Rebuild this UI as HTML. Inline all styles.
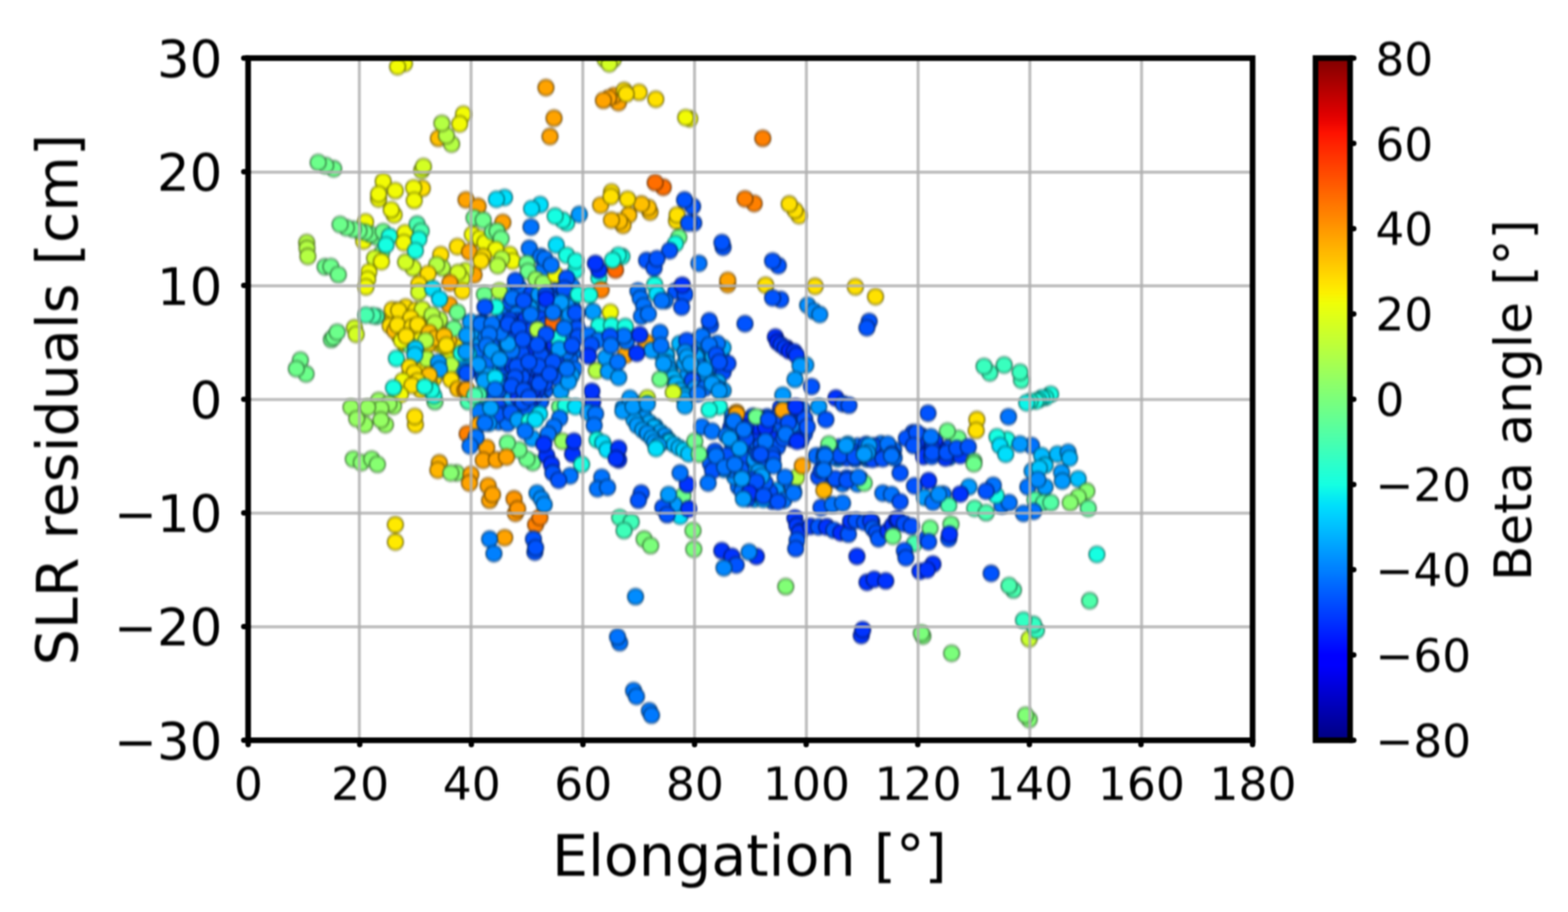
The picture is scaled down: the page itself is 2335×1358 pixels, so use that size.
<!DOCTYPE html>
<html lang="en"><head><meta charset="utf-8">
<title>SLR residuals vs Elongation</title>
<style>
html,body{margin:0;padding:0;background:#fff;}
body{width:2335px;height:1358px;overflow:hidden;}
svg{display:block;}
text{font-family:"DejaVu Sans","Liberation Sans",sans-serif;fill:#000;}
.tx{font-size:68.0px;}.ty{font-size:76.4px;}.tc{font-size:67.5px;}
.lb{font-size:85.0px;}.lc{font-size:77.0px;}
</style></head><body>
<svg width="2335" height="1358" viewBox="0 0 2335 1358" role="img" aria-label="Scatter plot of SLR residuals versus elongation, coloured by beta angle">
<defs>
<linearGradient id="jet" x1="0" y1="0" x2="0" y2="1"><stop offset="0.0000" stop-color="#800000"/><stop offset="0.0156" stop-color="#920000"/><stop offset="0.0312" stop-color="#a40000"/><stop offset="0.0469" stop-color="#b60000"/><stop offset="0.0625" stop-color="#c80000"/><stop offset="0.0781" stop-color="#da0000"/><stop offset="0.0938" stop-color="#ec0400"/><stop offset="0.1094" stop-color="#fe1200"/><stop offset="0.1250" stop-color="#ff2100"/><stop offset="0.1406" stop-color="#ff3000"/><stop offset="0.1562" stop-color="#ff3f00"/><stop offset="0.1719" stop-color="#ff4d00"/><stop offset="0.1875" stop-color="#ff5c00"/><stop offset="0.2031" stop-color="#ff6b00"/><stop offset="0.2188" stop-color="#ff7a00"/><stop offset="0.2344" stop-color="#ff8800"/><stop offset="0.2500" stop-color="#ff9700"/><stop offset="0.2656" stop-color="#ffa600"/><stop offset="0.2812" stop-color="#ffb500"/><stop offset="0.2969" stop-color="#ffc300"/><stop offset="0.3125" stop-color="#ffd200"/><stop offset="0.3281" stop-color="#ffe100"/><stop offset="0.3438" stop-color="#fcf000"/><stop offset="0.3594" stop-color="#effe08"/><stop offset="0.3750" stop-color="#e2ff15"/><stop offset="0.3906" stop-color="#d5ff21"/><stop offset="0.4062" stop-color="#c9ff2e"/><stop offset="0.4219" stop-color="#bcff3b"/><stop offset="0.4375" stop-color="#afff48"/><stop offset="0.4531" stop-color="#a2ff55"/><stop offset="0.4688" stop-color="#95ff62"/><stop offset="0.4844" stop-color="#88ff6f"/><stop offset="0.5000" stop-color="#7bff7b"/><stop offset="0.5156" stop-color="#6fff88"/><stop offset="0.5312" stop-color="#62ff95"/><stop offset="0.5469" stop-color="#55ffa2"/><stop offset="0.5625" stop-color="#48ffaf"/><stop offset="0.5781" stop-color="#3bffbc"/><stop offset="0.5938" stop-color="#2effc9"/><stop offset="0.6094" stop-color="#21ffd5"/><stop offset="0.6250" stop-color="#15ffe2"/><stop offset="0.6406" stop-color="#08efef"/><stop offset="0.6562" stop-color="#00dffc"/><stop offset="0.6719" stop-color="#00cfff"/><stop offset="0.6875" stop-color="#00bfff"/><stop offset="0.7031" stop-color="#00afff"/><stop offset="0.7188" stop-color="#009fff"/><stop offset="0.7344" stop-color="#008fff"/><stop offset="0.7500" stop-color="#0080ff"/><stop offset="0.7656" stop-color="#0070ff"/><stop offset="0.7812" stop-color="#0060ff"/><stop offset="0.7969" stop-color="#0050ff"/><stop offset="0.8125" stop-color="#0040ff"/><stop offset="0.8281" stop-color="#0030ff"/><stop offset="0.8438" stop-color="#0020ff"/><stop offset="0.8594" stop-color="#0010ff"/><stop offset="0.8750" stop-color="#0000ff"/><stop offset="0.8906" stop-color="#0000fe"/><stop offset="0.9062" stop-color="#0000ec"/><stop offset="0.9219" stop-color="#0000da"/><stop offset="0.9375" stop-color="#0000c8"/><stop offset="0.9531" stop-color="#0000b6"/><stop offset="0.9688" stop-color="#0000a4"/><stop offset="0.9844" stop-color="#000092"/><stop offset="1.0000" stop-color="#000080"/></linearGradient>
<clipPath id="ax"><rect x="369.5" y="86.5" width="1495.8" height="1015.8"/></clipPath>
<filter id="soft" filterUnits="userSpaceOnUse" x="0" y="0" width="2335" height="1358" color-interpolation-filters="sRGB"><feGaussianBlur stdDeviation="1.5 2.0"/></filter>
<filter id="line" filterUnits="userSpaceOnUse" x="0" y="0" width="2335" height="1358" color-interpolation-filters="sRGB"><feGaussianBlur stdDeviation="0.9 1.2"/></filter>
<filter id="txt" filterUnits="userSpaceOnUse" x="0" y="0" width="2335" height="1358" color-interpolation-filters="sRGB"><feGaussianBlur stdDeviation="1.1 1.4"/></filter>
</defs>
<rect width="2335" height="1358" fill="#fff"/>
<g filter="url(#soft)"><g clip-path="url(#ax)" stroke-width="1.8">
<circle cx="832.1" cy="448.6" r="11.8" fill="#0070ff" stroke="#002f6b"/>
<circle cx="765.1" cy="525.9" r="11.8" fill="#004eff" stroke="#00216b"/>
<circle cx="735.9" cy="500.1" r="11.8" fill="#006fff" stroke="#002f6b"/>
<circle cx="703.2" cy="533.7" r="11.8" fill="#009cff" stroke="#00426b"/>
<circle cx="711.1" cy="506.7" r="11.8" fill="#0078ff" stroke="#00326b"/>
<circle cx="798.0" cy="559.8" r="11.8" fill="#0070ff" stroke="#002f6b"/>
<circle cx="851.1" cy="504.5" r="11.8" fill="#005bff" stroke="#00266b"/>
<circle cx="830.2" cy="432.6" r="11.8" fill="#0053ff" stroke="#00236b"/>
<circle cx="852.4" cy="458.4" r="11.8" fill="#0092ff" stroke="#003e6b"/>
<circle cx="805.9" cy="483.6" r="11.8" fill="#0094ff" stroke="#003e6b"/>
<circle cx="770.8" cy="535.5" r="11.8" fill="#004dff" stroke="#00206b"/>
<circle cx="814.6" cy="502.2" r="11.8" fill="#0094ff" stroke="#003e6b"/>
<circle cx="782.6" cy="556.7" r="11.8" fill="#0073ff" stroke="#00306b"/>
<circle cx="793.4" cy="547.9" r="11.8" fill="#006eff" stroke="#002e6b"/>
<circle cx="754.4" cy="492.3" r="11.8" fill="#006fff" stroke="#002f6b"/>
<circle cx="835.4" cy="540.2" r="11.8" fill="#0072ff" stroke="#00306b"/>
<circle cx="716.5" cy="623.6" r="11.8" fill="#009eff" stroke="#00426b"/>
<circle cx="794.7" cy="468.7" r="11.8" fill="#0095ff" stroke="#003f6b"/>
<circle cx="792.3" cy="480.4" r="11.8" fill="#004aff" stroke="#001f6b"/>
<circle cx="718.6" cy="539.0" r="11.8" fill="#0058ff" stroke="#00256b"/>
<circle cx="755.8" cy="582.9" r="11.8" fill="#0093ff" stroke="#003e6b"/>
<circle cx="799.8" cy="502.5" r="11.8" fill="#0072ff" stroke="#00306b"/>
<circle cx="768.8" cy="443.3" r="11.8" fill="#009eff" stroke="#00426b"/>
<circle cx="722.1" cy="590.8" r="11.8" fill="#009dff" stroke="#00426b"/>
<circle cx="776.9" cy="544.2" r="11.8" fill="#009cff" stroke="#00426b"/>
<circle cx="752.0" cy="571.8" r="11.8" fill="#0070ff" stroke="#002f6b"/>
<circle cx="757.8" cy="513.7" r="11.8" fill="#0094ff" stroke="#003e6b"/>
<circle cx="734.3" cy="483.5" r="11.8" fill="#0074ff" stroke="#00316b"/>
<circle cx="800.8" cy="544.2" r="11.8" fill="#006cff" stroke="#002e6b"/>
<circle cx="818.0" cy="523.0" r="11.8" fill="#0059ff" stroke="#00266b"/>
<circle cx="697.7" cy="545.3" r="11.8" fill="#00a2ff" stroke="#00446b"/>
<circle cx="742.7" cy="512.7" r="11.8" fill="#0074ff" stroke="#00316b"/>
<circle cx="718.1" cy="606.2" r="11.8" fill="#00a1ff" stroke="#00446b"/>
<circle cx="853.0" cy="525.6" r="11.8" fill="#0079ff" stroke="#00336b"/>
<circle cx="832.6" cy="472.6" r="11.8" fill="#009fff" stroke="#00436b"/>
<circle cx="811.8" cy="568.3" r="11.8" fill="#0059ff" stroke="#00266b"/>
<circle cx="753.7" cy="589.6" r="11.8" fill="#004bff" stroke="#00206b"/>
<circle cx="765.1" cy="505.7" r="11.8" fill="#0070ff" stroke="#002f6b"/>
<circle cx="784.3" cy="582.2" r="11.8" fill="#0079ff" stroke="#00336b"/>
<circle cx="757.8" cy="467.8" r="11.8" fill="#0072ff" stroke="#00306b"/>
<circle cx="766.6" cy="460.7" r="11.8" fill="#0093ff" stroke="#003e6b"/>
<circle cx="848.8" cy="535.4" r="11.8" fill="#006aff" stroke="#002c6b"/>
<circle cx="784.2" cy="447.2" r="11.8" fill="#004cff" stroke="#00206b"/>
<circle cx="857.6" cy="482.6" r="11.8" fill="#0075ff" stroke="#00316b"/>
<circle cx="788.1" cy="590.1" r="11.8" fill="#005aff" stroke="#00266b"/>
<circle cx="855.9" cy="549.6" r="11.8" fill="#0070ff" stroke="#002f6b"/>
<circle cx="764.6" cy="431.6" r="11.8" fill="#0096ff" stroke="#003f6b"/>
<circle cx="725.0" cy="524.7" r="11.8" fill="#0093ff" stroke="#003e6b"/>
<circle cx="777.5" cy="434.7" r="11.8" fill="#004dff" stroke="#00206b"/>
<circle cx="850.0" cy="494.2" r="11.8" fill="#009cff" stroke="#00426b"/>
<circle cx="788.2" cy="612.4" r="11.8" fill="#006dff" stroke="#002e6b"/>
<circle cx="772.9" cy="589.9" r="11.8" fill="#0075ff" stroke="#00316b"/>
<circle cx="792.3" cy="605.9" r="11.8" fill="#006cff" stroke="#002d6b"/>
<circle cx="727.5" cy="579.1" r="11.8" fill="#0078ff" stroke="#00326b"/>
<circle cx="836.3" cy="494.8" r="11.8" fill="#0077ff" stroke="#00326b"/>
<circle cx="755.9" cy="602.5" r="11.8" fill="#0076ff" stroke="#00326b"/>
<circle cx="834.0" cy="556.7" r="11.8" fill="#006bff" stroke="#002d6b"/>
<circle cx="715.8" cy="492.6" r="11.8" fill="#0077ff" stroke="#00326b"/>
<circle cx="760.9" cy="562.0" r="11.8" fill="#009fff" stroke="#00436b"/>
<circle cx="813.6" cy="544.9" r="11.8" fill="#0051ff" stroke="#00226b"/>
<circle cx="760.2" cy="450.2" r="11.8" fill="#0057ff" stroke="#00246b"/>
<circle cx="822.7" cy="469.0" r="11.8" fill="#006bff" stroke="#002d6b"/>
<circle cx="741.5" cy="562.6" r="11.8" fill="#0052ff" stroke="#00226b"/>
<circle cx="747.7" cy="478.6" r="11.8" fill="#006dff" stroke="#002e6b"/>
<circle cx="782.0" cy="471.6" r="11.8" fill="#0055ff" stroke="#00246b"/>
<circle cx="737.3" cy="589.3" r="11.8" fill="#0058ff" stroke="#00256b"/>
<circle cx="778.4" cy="616.9" r="11.8" fill="#006aff" stroke="#002c6b"/>
<circle cx="843.4" cy="525.0" r="11.8" fill="#0071ff" stroke="#002f6b"/>
<circle cx="741.7" cy="604.9" r="11.8" fill="#0049ff" stroke="#001f6b"/>
<circle cx="736.5" cy="551.3" r="11.8" fill="#00a2ff" stroke="#00446b"/>
<circle cx="713.5" cy="545.2" r="11.8" fill="#0050ff" stroke="#00226b"/>
<circle cx="766.9" cy="579.4" r="11.8" fill="#006bff" stroke="#002d6b"/>
<circle cx="722.0" cy="612.0" r="11.8" fill="#006eff" stroke="#002e6b"/>
<circle cx="788.6" cy="524.7" r="11.8" fill="#0070ff" stroke="#002f6b"/>
<circle cx="715.9" cy="511.0" r="11.8" fill="#009bff" stroke="#00416b"/>
<circle cx="813.0" cy="433.7" r="11.8" fill="#004bff" stroke="#00206b"/>
<circle cx="775.5" cy="461.0" r="11.8" fill="#004fff" stroke="#00216b"/>
<circle cx="826.7" cy="478.9" r="11.8" fill="#004cff" stroke="#00206b"/>
<circle cx="849.8" cy="443.0" r="11.8" fill="#0052ff" stroke="#00226b"/>
<circle cx="719.4" cy="561.6" r="11.8" fill="#0052ff" stroke="#00226b"/>
<circle cx="850.9" cy="558.9" r="11.8" fill="#009dff" stroke="#00426b"/>
<circle cx="747.4" cy="489.3" r="11.8" fill="#0049ff" stroke="#001f6b"/>
<circle cx="785.1" cy="604.6" r="11.8" fill="#007cff" stroke="#00346b"/>
<circle cx="775.8" cy="500.1" r="11.8" fill="#00a0ff" stroke="#00436b"/>
<circle cx="809.5" cy="561.6" r="11.8" fill="#0096ff" stroke="#003f6b"/>
<circle cx="732.3" cy="515.1" r="11.8" fill="#005cff" stroke="#00276b"/>
<circle cx="815.6" cy="477.1" r="11.8" fill="#0092ff" stroke="#003d6b"/>
<circle cx="839.2" cy="436.2" r="11.8" fill="#006eff" stroke="#002e6b"/>
<circle cx="737.4" cy="525.8" r="11.8" fill="#0057ff" stroke="#00256b"/>
<circle cx="824.9" cy="548.6" r="11.8" fill="#0099ff" stroke="#00406b"/>
<circle cx="694.0" cy="537.8" r="11.8" fill="#0092ff" stroke="#003d6b"/>
<circle cx="799.2" cy="445.3" r="11.8" fill="#0092ff" stroke="#003d6b"/>
<circle cx="722.0" cy="482.2" r="11.8" fill="#0076ff" stroke="#00316b"/>
<circle cx="749.8" cy="525.0" r="11.8" fill="#0092ff" stroke="#003d6b"/>
<circle cx="832.4" cy="513.6" r="11.8" fill="#0090ff" stroke="#003c6b"/>
<circle cx="841.0" cy="506.1" r="11.8" fill="#006dff" stroke="#002e6b"/>
<circle cx="742.8" cy="628.3" r="11.8" fill="#0075ff" stroke="#00316b"/>
<circle cx="741.2" cy="582.5" r="11.8" fill="#005cff" stroke="#00276b"/>
<circle cx="702.5" cy="481.8" r="11.8" fill="#00a1ff" stroke="#00446b"/>
<circle cx="751.9" cy="616.3" r="11.8" fill="#0057ff" stroke="#00246b"/>
<circle cx="811.5" cy="466.2" r="11.8" fill="#0055ff" stroke="#00246b"/>
<circle cx="769.7" cy="468.1" r="11.8" fill="#007aff" stroke="#00336b"/>
<circle cx="722.0" cy="499.1" r="11.8" fill="#0079ff" stroke="#00336b"/>
<circle cx="751.6" cy="501.5" r="11.8" fill="#0070ff" stroke="#002f6b"/>
<circle cx="798.4" cy="492.7" r="11.8" fill="#0059ff" stroke="#00256b"/>
<circle cx="828.7" cy="502.8" r="11.8" fill="#004eff" stroke="#00216b"/>
<circle cx="775.8" cy="570.5" r="11.8" fill="#006dff" stroke="#002e6b"/>
<circle cx="851.7" cy="515.5" r="11.8" fill="#004cff" stroke="#00206b"/>
<circle cx="781.0" cy="538.6" r="11.8" fill="#0059ff" stroke="#00256b"/>
<circle cx="750.4" cy="545.0" r="11.8" fill="#0052ff" stroke="#00236b"/>
<circle cx="825.6" cy="539.9" r="11.8" fill="#0092ff" stroke="#003d6b"/>
<circle cx="769.6" cy="604.1" r="11.8" fill="#0096ff" stroke="#003f6b"/>
<circle cx="811.3" cy="581.8" r="11.8" fill="#005cff" stroke="#00276b"/>
<circle cx="779.5" cy="491.1" r="11.8" fill="#0054ff" stroke="#00236b"/>
<circle cx="740.9" cy="573.2" r="11.8" fill="#007cff" stroke="#00346b"/>
<circle cx="809.7" cy="495.5" r="11.8" fill="#004fff" stroke="#00216b"/>
<circle cx="825.8" cy="561.5" r="11.8" fill="#005aff" stroke="#00266b"/>
<circle cx="767.3" cy="492.5" r="11.8" fill="#0099ff" stroke="#00406b"/>
<circle cx="844.5" cy="455.9" r="11.8" fill="#0092ff" stroke="#003d6b"/>
<circle cx="851.9" cy="426.7" r="11.8" fill="#007cff" stroke="#00346b"/>
<circle cx="769.5" cy="559.6" r="11.8" fill="#009cff" stroke="#00416b"/>
<circle cx="792.5" cy="569.0" r="11.8" fill="#0098ff" stroke="#00406b"/>
<circle cx="714.8" cy="480.8" r="11.8" fill="#0056ff" stroke="#00246b"/>
<circle cx="825.8" cy="516.6" r="11.8" fill="#006aff" stroke="#002c6b"/>
<circle cx="766.4" cy="566.6" r="11.8" fill="#006fff" stroke="#002f6b"/>
<circle cx="805.8" cy="522.4" r="11.8" fill="#004dff" stroke="#00206b"/>
<circle cx="771.8" cy="426.6" r="11.8" fill="#006eff" stroke="#002e6b"/>
<circle cx="821.6" cy="445.6" r="11.8" fill="#0054ff" stroke="#00236b"/>
<circle cx="756.5" cy="540.5" r="11.8" fill="#0099ff" stroke="#00406b"/>
<circle cx="805.3" cy="539.7" r="11.8" fill="#0069ff" stroke="#002c6b"/>
<circle cx="762.3" cy="593.7" r="11.8" fill="#0099ff" stroke="#00406b"/>
<circle cx="747.3" cy="538.3" r="11.8" fill="#0052ff" stroke="#00226b"/>
<circle cx="798.5" cy="534.4" r="11.8" fill="#006dff" stroke="#002e6b"/>
<circle cx="805.5" cy="596.4" r="11.8" fill="#0078ff" stroke="#00326b"/>
<circle cx="755.9" cy="630.4" r="11.8" fill="#0071ff" stroke="#002f6b"/>
<circle cx="777.9" cy="480.9" r="11.8" fill="#0052ff" stroke="#00226b"/>
<circle cx="733.5" cy="562.3" r="11.8" fill="#006cff" stroke="#002e6b"/>
<circle cx="792.3" cy="505.5" r="11.8" fill="#009fff" stroke="#00436b"/>
<circle cx="722.7" cy="550.7" r="11.8" fill="#009dff" stroke="#00426b"/>
<circle cx="842.1" cy="547.3" r="11.8" fill="#0090ff" stroke="#003d6b"/>
<circle cx="810.7" cy="511.4" r="11.8" fill="#004eff" stroke="#00216b"/>
<circle cx="740.2" cy="617.1" r="11.8" fill="#0057ff" stroke="#00256b"/>
<circle cx="859.0" cy="467.0" r="11.8" fill="#0058ff" stroke="#00256b"/>
<circle cx="728.9" cy="535.8" r="11.8" fill="#006fff" stroke="#002f6b"/>
<circle cx="767.0" cy="515.6" r="11.8" fill="#004aff" stroke="#001f6b"/>
<circle cx="799.1" cy="455.5" r="11.8" fill="#006cff" stroke="#002d6b"/>
<circle cx="791.8" cy="436.9" r="11.8" fill="#004cff" stroke="#00206b"/>
<circle cx="713.3" cy="612.9" r="11.8" fill="#007aff" stroke="#00336b"/>
<circle cx="708.8" cy="524.3" r="11.8" fill="#006fff" stroke="#002f6b"/>
<circle cx="778.1" cy="523.8" r="11.8" fill="#0073ff" stroke="#00306b"/>
<circle cx="701.4" cy="495.1" r="11.8" fill="#009dff" stroke="#00426b"/>
<circle cx="721.5" cy="566.8" r="11.8" fill="#009dff" stroke="#00426b"/>
<circle cx="825.6" cy="458.0" r="11.8" fill="#0097ff" stroke="#003f6b"/>
<circle cx="809.2" cy="448.7" r="11.8" fill="#006eff" stroke="#002e6b"/>
<circle cx="760.9" cy="614.5" r="11.8" fill="#005aff" stroke="#00266b"/>
<circle cx="793.2" cy="582.8" r="11.8" fill="#0070ff" stroke="#002f6b"/>
<circle cx="839.5" cy="481.3" r="11.8" fill="#0094ff" stroke="#003e6b"/>
<circle cx="802.6" cy="438.4" r="11.8" fill="#0094ff" stroke="#003e6b"/>
<circle cx="788.8" cy="458.8" r="11.8" fill="#009eff" stroke="#00436b"/>
<circle cx="825.6" cy="522.4" r="11.8" fill="#007bff" stroke="#00346b"/>
<circle cx="814.1" cy="456.6" r="11.8" fill="#0069ff" stroke="#002c6b"/>
<circle cx="761.9" cy="480.4" r="11.8" fill="#0056ff" stroke="#00246b"/>
<circle cx="766.2" cy="546.9" r="11.8" fill="#004fff" stroke="#00216b"/>
<circle cx="728.0" cy="630.2" r="11.8" fill="#0091ff" stroke="#003d6b"/>
<circle cx="848.3" cy="468.8" r="11.8" fill="#0091ff" stroke="#003d6b"/>
<circle cx="771.4" cy="625.3" r="11.8" fill="#009fff" stroke="#00436b"/>
<circle cx="818.8" cy="491.5" r="11.8" fill="#0053ff" stroke="#00236b"/>
<circle cx="780.3" cy="514.4" r="11.8" fill="#004eff" stroke="#00216b"/>
<circle cx="800.7" cy="568.1" r="11.8" fill="#00a0ff" stroke="#00436b"/>
<circle cx="730.1" cy="495.1" r="11.8" fill="#0094ff" stroke="#003e6b"/>
<circle cx="730.6" cy="607.5" r="11.8" fill="#00a0ff" stroke="#00436b"/>
<circle cx="798.9" cy="517.5" r="11.8" fill="#006bff" stroke="#002d6b"/>
<circle cx="804.8" cy="597.9" r="11.8" fill="#005cff" stroke="#00276b"/>
<circle cx="795.2" cy="590.4" r="11.8" fill="#004bff" stroke="#00206b"/>
<circle cx="795.7" cy="547.4" r="11.8" fill="#0044ff" stroke="#001d6b"/>
<circle cx="790.1" cy="557.9" r="11.8" fill="#004eff" stroke="#00216b"/>
<circle cx="771.1" cy="477.6" r="11.8" fill="#0050ff" stroke="#00216b"/>
<circle cx="772.3" cy="571.5" r="11.8" fill="#003eff" stroke="#001a6b"/>
<circle cx="790.6" cy="476.9" r="11.8" fill="#0043ff" stroke="#001c6b"/>
<circle cx="811.4" cy="550.1" r="11.8" fill="#0039ff" stroke="#00186b"/>
<circle cx="806.8" cy="519.8" r="11.8" fill="#0034ff" stroke="#00166b"/>
<circle cx="759.7" cy="530.1" r="11.8" fill="#002aff" stroke="#00126b"/>
<circle cx="781.7" cy="539.3" r="11.8" fill="#004aff" stroke="#001f6b"/>
<circle cx="785.5" cy="506.1" r="11.8" fill="#002cff" stroke="#00136b"/>
<circle cx="813.5" cy="514.2" r="11.8" fill="#003bff" stroke="#00196b"/>
<circle cx="789.3" cy="535.7" r="11.8" fill="#0049ff" stroke="#001f6b"/>
<circle cx="809.8" cy="528.8" r="11.8" fill="#004aff" stroke="#001f6b"/>
<circle cx="795.4" cy="507.2" r="11.8" fill="#0058ff" stroke="#00256b"/>
<circle cx="797.9" cy="524.4" r="11.8" fill="#004dff" stroke="#00206b"/>
<circle cx="764.8" cy="518.5" r="11.8" fill="#0042ff" stroke="#001c6b"/>
<circle cx="806.2" cy="498.0" r="11.8" fill="#004eff" stroke="#00216b"/>
<circle cx="764.3" cy="540.2" r="11.8" fill="#0059ff" stroke="#00256b"/>
<circle cx="781.6" cy="579.8" r="11.8" fill="#004eff" stroke="#00216b"/>
<circle cx="778.9" cy="514.0" r="11.8" fill="#0059ff" stroke="#00256b"/>
<circle cx="782.4" cy="547.0" r="11.8" fill="#004aff" stroke="#001f6b"/>
<circle cx="757.2" cy="493.8" r="11.8" fill="#0044ff" stroke="#001d6b"/>
<circle cx="783.3" cy="486.0" r="11.8" fill="#003cff" stroke="#00196b"/>
<circle cx="770.6" cy="557.1" r="11.8" fill="#0035ff" stroke="#00166b"/>
<circle cx="800.3" cy="484.8" r="11.8" fill="#004fff" stroke="#00216b"/>
<circle cx="775.1" cy="482.0" r="11.8" fill="#0044ff" stroke="#001d6b"/>
<circle cx="818.8" cy="545.6" r="11.8" fill="#0052ff" stroke="#00226b"/>
<circle cx="788.4" cy="601.9" r="11.8" fill="#002fff" stroke="#00146b"/>
<circle cx="811.3" cy="570.5" r="11.8" fill="#004eff" stroke="#00216b"/>
<circle cx="786.0" cy="607.9" r="11.8" fill="#005cff" stroke="#00276b"/>
<circle cx="796.1" cy="570.1" r="11.8" fill="#0041ff" stroke="#001b6b"/>
<circle cx="763.5" cy="544.8" r="11.8" fill="#0043ff" stroke="#001c6b"/>
<circle cx="827.6" cy="537.7" r="11.8" fill="#0048ff" stroke="#001e6b"/>
<circle cx="819.2" cy="496.1" r="11.8" fill="#003fff" stroke="#001a6b"/>
<circle cx="782.5" cy="491.9" r="11.8" fill="#0057ff" stroke="#00246b"/>
<circle cx="812.6" cy="558.0" r="11.8" fill="#0058ff" stroke="#00256b"/>
<circle cx="804.2" cy="539.5" r="11.8" fill="#0045ff" stroke="#001d6b"/>
<circle cx="785.9" cy="525.1" r="11.8" fill="#0045ff" stroke="#001d6b"/>
<circle cx="757.8" cy="534.3" r="11.8" fill="#003fff" stroke="#001b6b"/>
<circle cx="772.2" cy="545.6" r="11.8" fill="#0050ff" stroke="#00226b"/>
<circle cx="783.0" cy="588.9" r="11.8" fill="#004bff" stroke="#00206b"/>
<circle cx="800.8" cy="578.5" r="11.8" fill="#0045ff" stroke="#001d6b"/>
<circle cx="813.2" cy="505.2" r="11.8" fill="#005bff" stroke="#00266b"/>
<circle cx="793.3" cy="515.9" r="11.8" fill="#0030ff" stroke="#00146b"/>
<circle cx="771.7" cy="507.1" r="11.8" fill="#0041ff" stroke="#001b6b"/>
<circle cx="815.8" cy="476.4" r="11.8" fill="#003cff" stroke="#00196b"/>
<circle cx="759.1" cy="476.7" r="11.8" fill="#004bff" stroke="#00206b"/>
<circle cx="783.0" cy="567.6" r="11.8" fill="#0041ff" stroke="#001b6b"/>
<circle cx="822.4" cy="528.3" r="11.8" fill="#005aff" stroke="#00266b"/>
<circle cx="772.0" cy="591.7" r="11.8" fill="#0037ff" stroke="#00176b"/>
<circle cx="778.7" cy="598.9" r="11.8" fill="#0057ff" stroke="#00256b"/>
<circle cx="777.1" cy="561.3" r="11.8" fill="#0052ff" stroke="#00226b"/>
<circle cx="783.0" cy="475.1" r="11.8" fill="#003dff" stroke="#001a6b"/>
<circle cx="758.8" cy="502.3" r="11.8" fill="#004dff" stroke="#00206b"/>
<circle cx="823.1" cy="506.7" r="11.8" fill="#0059ff" stroke="#00256b"/>
<circle cx="815.1" cy="537.1" r="11.8" fill="#0055ff" stroke="#00246b"/>
<circle cx="825.7" cy="513.4" r="11.8" fill="#002dff" stroke="#00136b"/>
<circle cx="776.1" cy="525.7" r="11.8" fill="#0051ff" stroke="#00226b"/>
<circle cx="765.3" cy="494.5" r="11.8" fill="#0047ff" stroke="#001e6b"/>
<circle cx="806.0" cy="475.1" r="11.8" fill="#0049ff" stroke="#001f6b"/>
<circle cx="806.8" cy="561.2" r="11.8" fill="#002dff" stroke="#00136b"/>
<circle cx="764.2" cy="485.1" r="11.8" fill="#0042ff" stroke="#001c6b"/>
<circle cx="793.4" cy="580.9" r="11.8" fill="#003aff" stroke="#00186b"/>
<circle cx="813.3" cy="484.0" r="11.8" fill="#004eff" stroke="#00216b"/>
<circle cx="756.8" cy="515.4" r="11.8" fill="#005cff" stroke="#00276b"/>
<circle cx="790.2" cy="491.9" r="11.8" fill="#0042ff" stroke="#001c6b"/>
<circle cx="1070.7" cy="547.8" r="11.8" fill="#00b3ff" stroke="#004b6b"/>
<circle cx="1047.8" cy="521.5" r="11.8" fill="#00aeff" stroke="#00496b"/>
<circle cx="1025.0" cy="532.5" r="11.8" fill="#0092ff" stroke="#003d6b"/>
<circle cx="1048.5" cy="531.1" r="11.8" fill="#0096ff" stroke="#003f6b"/>
<circle cx="1054.4" cy="572.8" r="11.8" fill="#00a0ff" stroke="#00436b"/>
<circle cx="1058.3" cy="519.8" r="11.8" fill="#0076ff" stroke="#00316b"/>
<circle cx="1012.2" cy="511.7" r="11.8" fill="#00b4ff" stroke="#004c6b"/>
<circle cx="1048.2" cy="565.4" r="11.8" fill="#0057ff" stroke="#00256b"/>
<circle cx="1020.1" cy="523.9" r="11.8" fill="#00a5ff" stroke="#00456b"/>
<circle cx="1065.2" cy="557.2" r="11.8" fill="#009cff" stroke="#00426b"/>
<circle cx="1036.5" cy="531.3" r="11.8" fill="#00a2ff" stroke="#00446b"/>
<circle cx="1045.9" cy="546.2" r="11.8" fill="#0079ff" stroke="#00336b"/>
<circle cx="1050.0" cy="510.1" r="11.8" fill="#00a5ff" stroke="#00456b"/>
<circle cx="1022.2" cy="561.0" r="11.8" fill="#0097ff" stroke="#003f6b"/>
<circle cx="1039.9" cy="505.4" r="11.8" fill="#0093ff" stroke="#003e6b"/>
<circle cx="1019.5" cy="540.9" r="11.8" fill="#009dff" stroke="#00426b"/>
<circle cx="1076.8" cy="554.2" r="11.8" fill="#004bff" stroke="#00206b"/>
<circle cx="1041.6" cy="555.4" r="11.8" fill="#0075ff" stroke="#00316b"/>
<circle cx="1075.8" cy="534.6" r="11.8" fill="#0095ff" stroke="#003f6b"/>
<circle cx="1026.9" cy="520.2" r="11.8" fill="#0057ff" stroke="#00246b"/>
<circle cx="1033.0" cy="548.8" r="11.8" fill="#00a8ff" stroke="#00476b"/>
<circle cx="1069.0" cy="568.8" r="11.8" fill="#00acff" stroke="#00486b"/>
<circle cx="1076.9" cy="581.4" r="11.8" fill="#009aff" stroke="#00416b"/>
<circle cx="1056.8" cy="545.3" r="11.8" fill="#0058ff" stroke="#00256b"/>
<circle cx="1022.8" cy="507.1" r="11.8" fill="#0051ff" stroke="#00226b"/>
<circle cx="1050.3" cy="555.9" r="11.8" fill="#009cff" stroke="#00426b"/>
<circle cx="1062.0" cy="530.9" r="11.8" fill="#00afff" stroke="#004a6b"/>
<circle cx="1076.7" cy="517.7" r="11.8" fill="#00acff" stroke="#00486b"/>
<circle cx="1031.0" cy="566.5" r="11.8" fill="#004fff" stroke="#00216b"/>
<circle cx="1068.8" cy="577.6" r="11.8" fill="#0077ff" stroke="#00326b"/>
<circle cx="1084.0" cy="541.2" r="11.8" fill="#004bff" stroke="#00206b"/>
<circle cx="1034.9" cy="578.2" r="11.8" fill="#0090ff" stroke="#003c6b"/>
<circle cx="1049.5" cy="577.8" r="11.8" fill="#006aff" stroke="#002c6b"/>
<circle cx="1068.3" cy="511.4" r="11.8" fill="#0072ff" stroke="#00306b"/>
<circle cx="667.7" cy="523.7" r="11.8" fill="#ecff0b" stroke="#636b04"/>
<circle cx="646.5" cy="483.0" r="11.8" fill="#ffea00" stroke="#6b6200"/>
<circle cx="615.6" cy="478.4" r="11.8" fill="#ffdb00" stroke="#6b5c00"/>
<circle cx="585.3" cy="471.5" r="11.8" fill="#ffdc00" stroke="#6b5c00"/>
<circle cx="599.1" cy="492.5" r="11.8" fill="#ffbf00" stroke="#6b5000"/>
<circle cx="630.4" cy="504.0" r="11.8" fill="#ffde00" stroke="#6b5d00"/>
<circle cx="633.6" cy="478.7" r="11.8" fill="#f5f702" stroke="#676801"/>
<circle cx="608.6" cy="503.4" r="11.8" fill="#ffc000" stroke="#6b5000"/>
<circle cx="614.9" cy="467.6" r="11.8" fill="#ffe700" stroke="#6b6100"/>
<circle cx="652.6" cy="512.1" r="11.8" fill="#ffe100" stroke="#6b5e00"/>
<circle cx="658.2" cy="507.2" r="11.8" fill="#ffdc00" stroke="#6b5c00"/>
<circle cx="590.5" cy="461.6" r="11.8" fill="#f7f600" stroke="#686700"/>
<circle cx="625.0" cy="496.3" r="11.8" fill="#ffdd00" stroke="#6b5d00"/>
<circle cx="581.0" cy="485.0" r="11.8" fill="#ffdc00" stroke="#6b5c00"/>
<circle cx="594.8" cy="500.8" r="11.8" fill="#efff08" stroke="#646b03"/>
<circle cx="597.3" cy="481.4" r="11.8" fill="#ffe300" stroke="#6b5f00"/>
<circle cx="614.3" cy="512.9" r="11.8" fill="#ffe500" stroke="#6b6000"/>
<circle cx="599.8" cy="470.0" r="11.8" fill="#ffe500" stroke="#6b6000"/>
<circle cx="662.1" cy="515.8" r="11.8" fill="#f4f903" stroke="#666901"/>
<circle cx="678.9" cy="515.7" r="11.8" fill="#ffda00" stroke="#6b5b00"/>
<circle cx="652.4" cy="492.7" r="11.8" fill="#ecff0a" stroke="#636b04"/>
<circle cx="622.5" cy="515.9" r="11.8" fill="#ffc000" stroke="#6b5100"/>
<circle cx="668.3" cy="506.8" r="11.8" fill="#ffc100" stroke="#6b5100"/>
<circle cx="602.1" cy="511.4" r="11.8" fill="#ffea00" stroke="#6b6200"/>
<circle cx="587.8" cy="492.2" r="11.8" fill="#ffbd00" stroke="#6b5000"/>
<circle cx="642.3" cy="505.0" r="11.8" fill="#f3fa04" stroke="#666902"/>
<circle cx="615.3" cy="492.9" r="11.8" fill="#ffdc00" stroke="#6b5c00"/>
<circle cx="638.3" cy="511.9" r="11.8" fill="#ffc900" stroke="#6b5400"/>
<circle cx="625.7" cy="468.3" r="11.8" fill="#f4f903" stroke="#666901"/>
<circle cx="605.1" cy="484.3" r="11.8" fill="#ffe100" stroke="#6b5e00"/>
<circle cx="584.0" cy="461.3" r="11.8" fill="#ffe100" stroke="#6b5f00"/>
<circle cx="622.6" cy="506.4" r="11.8" fill="#f9f400" stroke="#686600"/>
<circle cx="604.2" cy="457.2" r="11.8" fill="#ffdf00" stroke="#6b5e00"/>
<circle cx="636.7" cy="489.8" r="11.8" fill="#ffe400" stroke="#6b6000"/>
<circle cx="619.4" cy="461.8" r="11.8" fill="#ffe800" stroke="#6b6200"/>
<circle cx="624.8" cy="557.2" r="11.8" fill="#ffba00" stroke="#6b4e00"/>
<circle cx="646.1" cy="563.2" r="11.8" fill="#ffdc00" stroke="#6b5d00"/>
<circle cx="628.0" cy="567.6" r="11.8" fill="#ffdc00" stroke="#6b5c00"/>
<circle cx="618.5" cy="570.6" r="11.8" fill="#ffe800" stroke="#6b6100"/>
<circle cx="639.2" cy="569.7" r="11.8" fill="#ffb900" stroke="#6b4e00"/>
<circle cx="615.0" cy="546.8" r="11.8" fill="#ffbf00" stroke="#6b5000"/>
<circle cx="626.7" cy="580.4" r="11.8" fill="#ffe000" stroke="#6b5e00"/>
<circle cx="633.2" cy="558.4" r="11.8" fill="#ffc200" stroke="#6b5100"/>
<circle cx="607.6" cy="562.1" r="11.8" fill="#ffda00" stroke="#6b5c00"/>
<circle cx="631.0" cy="548.4" r="11.8" fill="#ffe800" stroke="#6b6100"/>
<circle cx="972.7" cy="518.8" r="11.8" fill="#0098ff" stroke="#00406b"/>
<circle cx="980.9" cy="523.6" r="11.8" fill="#00a2ff" stroke="#00446b"/>
<circle cx="992.7" cy="528.6" r="11.8" fill="#00abff" stroke="#00486b"/>
<circle cx="992.2" cy="528.9" r="11.8" fill="#00b0ff" stroke="#004a6b"/>
<circle cx="993.7" cy="540.3" r="11.8" fill="#00a1ff" stroke="#00436b"/>
<circle cx="996.9" cy="550.0" r="11.8" fill="#00aeff" stroke="#00496b"/>
<circle cx="995.7" cy="548.9" r="11.8" fill="#0096ff" stroke="#003f6b"/>
<circle cx="998.6" cy="556.9" r="11.8" fill="#00a6ff" stroke="#00466b"/>
<circle cx="1002.7" cy="563.0" r="11.8" fill="#00b4ff" stroke="#004b6b"/>
<circle cx="1005.5" cy="571.8" r="11.8" fill="#0098ff" stroke="#00406b"/>
<circle cx="1007.3" cy="571.6" r="11.8" fill="#00b4ff" stroke="#004b6b"/>
<circle cx="1012.9" cy="581.3" r="11.8" fill="#00aaff" stroke="#00486b"/>
<circle cx="1020.0" cy="588.3" r="11.8" fill="#0097ff" stroke="#003f6b"/>
<circle cx="1019.7" cy="589.1" r="11.8" fill="#00b2ff" stroke="#004b6b"/>
<circle cx="1019.4" cy="594.7" r="11.8" fill="#00a4ff" stroke="#00456b"/>
<circle cx="1020.1" cy="604.5" r="11.8" fill="#00a1ff" stroke="#00446b"/>
<circle cx="1020.4" cy="524.5" r="11.8" fill="#0091ff" stroke="#003d6b"/>
<circle cx="1023.1" cy="532.0" r="11.8" fill="#00a0ff" stroke="#00436b"/>
<circle cx="1027.8" cy="541.7" r="11.8" fill="#009cff" stroke="#00426b"/>
<circle cx="928.2" cy="606.8" r="11.8" fill="#0093ff" stroke="#003e6b"/>
<circle cx="935.2" cy="607.2" r="11.8" fill="#00a6ff" stroke="#00466b"/>
<circle cx="944.7" cy="612.5" r="11.8" fill="#0094ff" stroke="#003e6b"/>
<circle cx="953.9" cy="613.3" r="11.8" fill="#0091ff" stroke="#003d6b"/>
<circle cx="951.9" cy="614.5" r="11.8" fill="#00a8ff" stroke="#00476b"/>
<circle cx="959.8" cy="622.5" r="11.8" fill="#0095ff" stroke="#003f6b"/>
<circle cx="967.0" cy="629.3" r="11.8" fill="#00a5ff" stroke="#00456b"/>
<circle cx="975.7" cy="634.9" r="11.8" fill="#0094ff" stroke="#003e6b"/>
<circle cx="973.8" cy="636.4" r="11.8" fill="#00b3ff" stroke="#004b6b"/>
<circle cx="983.4" cy="643.6" r="11.8" fill="#00a5ff" stroke="#00456b"/>
<circle cx="990.2" cy="648.8" r="11.8" fill="#0096ff" stroke="#003f6b"/>
<circle cx="995.8" cy="655.8" r="11.8" fill="#0093ff" stroke="#003e6b"/>
<circle cx="997.3" cy="658.1" r="11.8" fill="#00ceff" stroke="#00566b"/>
<circle cx="1004.1" cy="662.1" r="11.8" fill="#00b7ff" stroke="#004d6b"/>
<circle cx="1011.3" cy="666.8" r="11.8" fill="#00b7ff" stroke="#004d6b"/>
<circle cx="1018.5" cy="670.3" r="11.8" fill="#00d0ff" stroke="#00576b"/>
<circle cx="1025.6" cy="675.7" r="11.8" fill="#00c4ff" stroke="#00526b"/>
<circle cx="944.0" cy="624.8" r="11.8" fill="#00a1ff" stroke="#00446b"/>
<circle cx="949.0" cy="633.5" r="11.8" fill="#009aff" stroke="#00406b"/>
<circle cx="957.1" cy="640.3" r="11.8" fill="#00a0ff" stroke="#00436b"/>
<circle cx="963.7" cy="645.5" r="11.8" fill="#0097ff" stroke="#003f6b"/>
<circle cx="964.2" cy="645.2" r="11.8" fill="#0096ff" stroke="#003f6b"/>
<circle cx="970.9" cy="652.5" r="11.8" fill="#009eff" stroke="#00436b"/>
<circle cx="974.9" cy="658.7" r="11.8" fill="#009aff" stroke="#00416b"/>
<circle cx="980.7" cy="663.2" r="11.8" fill="#009eff" stroke="#00426b"/>
<circle cx="1154.7" cy="501.9" r="11.8" fill="#0030ff" stroke="#00146b"/>
<circle cx="1157.9" cy="509.3" r="11.8" fill="#002aff" stroke="#00126b"/>
<circle cx="1163.1" cy="513.6" r="11.8" fill="#003aff" stroke="#00186b"/>
<circle cx="1171.3" cy="518.2" r="11.8" fill="#002fff" stroke="#00146b"/>
<circle cx="1169.0" cy="518.1" r="11.8" fill="#003aff" stroke="#00186b"/>
<circle cx="1175.5" cy="522.5" r="11.8" fill="#002aff" stroke="#00126b"/>
<circle cx="1182.7" cy="524.0" r="11.8" fill="#0035ff" stroke="#00166b"/>
<circle cx="1186.1" cy="529.0" r="11.8" fill="#0038ff" stroke="#00176b"/>
<circle cx="1088.3" cy="636.6" r="11.8" fill="#0039ff" stroke="#00186b"/>
<circle cx="1121.6" cy="619.6" r="11.8" fill="#0058ff" stroke="#00256b"/>
<circle cx="1119.3" cy="685.4" r="11.8" fill="#0052ff" stroke="#00236b"/>
<circle cx="1142.4" cy="620.8" r="11.8" fill="#0055ff" stroke="#00246b"/>
<circle cx="1162.5" cy="606.9" r="11.8" fill="#003cff" stroke="#00196b"/>
<circle cx="1132.1" cy="643.3" r="11.8" fill="#0056ff" stroke="#00246b"/>
<circle cx="1115.4" cy="668.4" r="11.8" fill="#006cff" stroke="#002d6b"/>
<circle cx="1123.8" cy="657.0" r="11.8" fill="#0072ff" stroke="#00306b"/>
<circle cx="1194.1" cy="609.2" r="11.8" fill="#006bff" stroke="#002d6b"/>
<circle cx="1193.1" cy="631.7" r="11.8" fill="#006bff" stroke="#002d6b"/>
<circle cx="1147.6" cy="670.5" r="11.8" fill="#003cff" stroke="#00196b"/>
<circle cx="1168.0" cy="630.7" r="11.8" fill="#0051ff" stroke="#00226b"/>
<circle cx="1167.3" cy="621.5" r="11.8" fill="#0030ff" stroke="#00146b"/>
<circle cx="1106.4" cy="625.5" r="11.8" fill="#002eff" stroke="#00146b"/>
<circle cx="1141.9" cy="658.6" r="11.8" fill="#005cff" stroke="#00276b"/>
<circle cx="1098.3" cy="657.5" r="11.8" fill="#003aff" stroke="#00186b"/>
<circle cx="1184.8" cy="620.3" r="11.8" fill="#002eff" stroke="#00136b"/>
<circle cx="1182.5" cy="644.2" r="11.8" fill="#0050ff" stroke="#00226b"/>
<circle cx="1170.5" cy="644.5" r="11.8" fill="#002fff" stroke="#00146b"/>
<circle cx="1105.1" cy="664.9" r="11.8" fill="#004aff" stroke="#001f6b"/>
<circle cx="1161.1" cy="646.8" r="11.8" fill="#007bff" stroke="#00346b"/>
<circle cx="1121.5" cy="642.8" r="11.8" fill="#003bff" stroke="#00196b"/>
<circle cx="1104.0" cy="645.2" r="11.8" fill="#0077ff" stroke="#00326b"/>
<circle cx="1179.7" cy="653.7" r="11.8" fill="#0037ff" stroke="#00176b"/>
<circle cx="1090.9" cy="618.8" r="11.8" fill="#007bff" stroke="#00346b"/>
<circle cx="1155.2" cy="635.6" r="11.8" fill="#0059ff" stroke="#00256b"/>
<circle cx="1175.3" cy="610.4" r="11.8" fill="#0053ff" stroke="#00236b"/>
<circle cx="1113.8" cy="680.4" r="11.8" fill="#004fff" stroke="#00216b"/>
<circle cx="1101.9" cy="636.6" r="11.8" fill="#005cff" stroke="#00276b"/>
<circle cx="1096.1" cy="642.3" r="11.8" fill="#0059ff" stroke="#00256b"/>
<circle cx="1128.4" cy="634.8" r="11.8" fill="#002cff" stroke="#00136b"/>
<circle cx="1110.6" cy="636.8" r="11.8" fill="#002bff" stroke="#00126b"/>
<circle cx="1123.1" cy="679.0" r="11.8" fill="#006eff" stroke="#002e6b"/>
<circle cx="1197.9" cy="645.9" r="11.8" fill="#0054ff" stroke="#00236b"/>
<circle cx="1180.3" cy="632.6" r="11.8" fill="#007aff" stroke="#00336b"/>
<circle cx="1110.8" cy="653.0" r="11.8" fill="#004dff" stroke="#00206b"/>
<circle cx="1160.1" cy="618.9" r="11.8" fill="#004dff" stroke="#00206b"/>
<circle cx="1143.8" cy="642.0" r="11.8" fill="#007aff" stroke="#00336b"/>
<circle cx="1133.5" cy="662.9" r="11.8" fill="#0056ff" stroke="#00246b"/>
<circle cx="1089.7" cy="657.4" r="11.8" fill="#0039ff" stroke="#00186b"/>
<circle cx="1152.0" cy="654.5" r="11.8" fill="#0034ff" stroke="#00166b"/>
<circle cx="1192.8" cy="655.6" r="11.8" fill="#004eff" stroke="#00216b"/>
<circle cx="1140.0" cy="676.1" r="11.8" fill="#0073ff" stroke="#00306b"/>
<circle cx="1157.8" cy="665.4" r="11.8" fill="#0058ff" stroke="#00256b"/>
<circle cx="1129.7" cy="621.5" r="11.8" fill="#0057ff" stroke="#00256b"/>
<circle cx="1140.0" cy="636.2" r="11.8" fill="#002eff" stroke="#00136b"/>
<circle cx="1091.4" cy="670.0" r="11.8" fill="#0074ff" stroke="#00316b"/>
<circle cx="1198.4" cy="623.4" r="11.8" fill="#0051ff" stroke="#00226b"/>
<circle cx="1150.3" cy="676.7" r="11.8" fill="#005bff" stroke="#00266b"/>
<circle cx="1102.7" cy="674.5" r="11.8" fill="#002cff" stroke="#00126b"/>
<circle cx="1167.1" cy="652.8" r="11.8" fill="#0059ff" stroke="#00256b"/>
<circle cx="1330.8" cy="669.5" r="11.8" fill="#006aff" stroke="#002c6b"/>
<circle cx="1225.0" cy="683.8" r="11.8" fill="#009aff" stroke="#00416b"/>
<circle cx="1283.3" cy="673.6" r="11.8" fill="#009cff" stroke="#00416b"/>
<circle cx="1324.5" cy="670.8" r="11.8" fill="#0077ff" stroke="#00326b"/>
<circle cx="1296.9" cy="674.5" r="11.8" fill="#006bff" stroke="#002d6b"/>
<circle cx="1242.5" cy="676.6" r="11.8" fill="#0053ff" stroke="#00236b"/>
<circle cx="1291.7" cy="683.4" r="11.8" fill="#0077ff" stroke="#00326b"/>
<circle cx="1249.9" cy="665.6" r="11.8" fill="#0057ff" stroke="#00246b"/>
<circle cx="1259.6" cy="681.4" r="11.8" fill="#004eff" stroke="#00216b"/>
<circle cx="1305.0" cy="682.5" r="11.8" fill="#004dff" stroke="#00206b"/>
<circle cx="1277.1" cy="664.3" r="11.8" fill="#006eff" stroke="#002e6b"/>
<circle cx="1290.0" cy="661.8" r="11.8" fill="#005bff" stroke="#00266b"/>
<circle cx="1232.8" cy="673.9" r="11.8" fill="#0056ff" stroke="#00246b"/>
<circle cx="1257.7" cy="671.6" r="11.8" fill="#004cff" stroke="#00206b"/>
<circle cx="1309.6" cy="674.6" r="11.8" fill="#004bff" stroke="#00206b"/>
<circle cx="1273.5" cy="683.4" r="11.8" fill="#006eff" stroke="#002e6b"/>
<circle cx="1262.5" cy="661.5" r="11.8" fill="#009dff" stroke="#00426b"/>
<circle cx="1312.1" cy="660.6" r="11.8" fill="#0077ff" stroke="#00326b"/>
<circle cx="1300.7" cy="663.8" r="11.8" fill="#004aff" stroke="#001f6b"/>
<circle cx="1235.8" cy="665.1" r="11.8" fill="#004cff" stroke="#00206b"/>
<circle cx="1247.8" cy="683.0" r="11.8" fill="#009bff" stroke="#00416b"/>
<circle cx="1270.0" cy="673.5" r="11.8" fill="#004eff" stroke="#00216b"/>
<circle cx="1435.0" cy="668.8" r="11.8" fill="#0077ff" stroke="#00326b"/>
<circle cx="1413.2" cy="680.9" r="11.8" fill="#007aff" stroke="#00336b"/>
<circle cx="1372.0" cy="648.7" r="11.8" fill="#0051ff" stroke="#00226b"/>
<circle cx="1372.5" cy="667.5" r="11.8" fill="#0078ff" stroke="#00326b"/>
<circle cx="1430.0" cy="678.3" r="11.8" fill="#0038ff" stroke="#00186b"/>
<circle cx="1411.9" cy="667.1" r="11.8" fill="#0056ff" stroke="#00246b"/>
<circle cx="1426.1" cy="665.9" r="11.8" fill="#004fff" stroke="#00216b"/>
<circle cx="1401.0" cy="671.5" r="11.8" fill="#002dff" stroke="#00136b"/>
<circle cx="1376.2" cy="660.9" r="11.8" fill="#0076ff" stroke="#00316b"/>
<circle cx="1391.9" cy="656.0" r="11.8" fill="#0030ff" stroke="#00146b"/>
<circle cx="1364.7" cy="660.0" r="11.8" fill="#0035ff" stroke="#00166b"/>
<circle cx="1354.0" cy="654.3" r="11.8" fill="#0073ff" stroke="#00306b"/>
<circle cx="1359.8" cy="644.1" r="11.8" fill="#004fff" stroke="#00216b"/>
<circle cx="1407.8" cy="682.1" r="11.8" fill="#0035ff" stroke="#00166b"/>
<circle cx="1375.4" cy="679.7" r="11.8" fill="#0034ff" stroke="#00166b"/>
<circle cx="1387.5" cy="679.5" r="11.8" fill="#0057ff" stroke="#00246b"/>
<circle cx="1388.5" cy="668.3" r="11.8" fill="#0038ff" stroke="#00176b"/>
<circle cx="1564.5" cy="587.1" r="11.8" fill="#16ffe1" stroke="#096b5e"/>
<circle cx="1557.0" cy="591.8" r="11.8" fill="#14ffe3" stroke="#096b5f"/>
<circle cx="1551.6" cy="592.4" r="11.8" fill="#0ef7e9" stroke="#066862"/>
<circle cx="1546.3" cy="595.6" r="11.8" fill="#10f9e7" stroke="#076961"/>
<circle cx="1542.6" cy="597.1" r="11.8" fill="#17ffe0" stroke="#0a6b5e"/>
<circle cx="1534.0" cy="597.6" r="11.8" fill="#19ffde" stroke="#0a6b5d"/>
<circle cx="1528.9" cy="599.8" r="11.8" fill="#0df6ea" stroke="#066762"/>
<circle cx="1156.0" cy="730.1" r="11.8" fill="#0098ff" stroke="#00406b"/>
<circle cx="1092.0" cy="688.2" r="11.8" fill="#009aff" stroke="#00416b"/>
<circle cx="1111.7" cy="695.7" r="11.8" fill="#009aff" stroke="#00416b"/>
<circle cx="1182.0" cy="732.2" r="11.8" fill="#0092ff" stroke="#003d6b"/>
<circle cx="1099.7" cy="724.8" r="11.8" fill="#006aff" stroke="#002d6b"/>
<circle cx="1131.5" cy="684.3" r="11.8" fill="#006fff" stroke="#002f6b"/>
<circle cx="1094.2" cy="710.2" r="11.8" fill="#0091ff" stroke="#003d6b"/>
<circle cx="1107.0" cy="713.8" r="11.8" fill="#004aff" stroke="#001f6b"/>
<circle cx="1114.9" cy="724.0" r="11.8" fill="#0053ff" stroke="#00236b"/>
<circle cx="1086.9" cy="699.1" r="11.8" fill="#0071ff" stroke="#002f6b"/>
<circle cx="1108.4" cy="683.9" r="11.8" fill="#004fff" stroke="#00216b"/>
<circle cx="1058.0" cy="689.9" r="11.8" fill="#005bff" stroke="#00266b"/>
<circle cx="1150.7" cy="746.4" r="11.8" fill="#0056ff" stroke="#00246b"/>
<circle cx="1127.1" cy="724.6" r="11.8" fill="#00a2ff" stroke="#00446b"/>
<circle cx="1123.7" cy="684.2" r="11.8" fill="#0094ff" stroke="#003e6b"/>
<circle cx="1123.4" cy="743.2" r="11.8" fill="#009fff" stroke="#00436b"/>
<circle cx="1134.2" cy="734.3" r="11.8" fill="#009fff" stroke="#00436b"/>
<circle cx="1138.1" cy="698.5" r="11.8" fill="#0058ff" stroke="#00256b"/>
<circle cx="1129.9" cy="702.3" r="11.8" fill="#009bff" stroke="#00416b"/>
<circle cx="1118.9" cy="736.5" r="11.8" fill="#0074ff" stroke="#00316b"/>
<circle cx="1104.9" cy="731.1" r="11.8" fill="#0072ff" stroke="#00306b"/>
<circle cx="1112.7" cy="742.7" r="11.8" fill="#004fff" stroke="#00216b"/>
<circle cx="1179.8" cy="724.4" r="11.8" fill="#006eff" stroke="#002e6b"/>
<circle cx="1146.2" cy="732.7" r="11.8" fill="#0050ff" stroke="#00226b"/>
<circle cx="1071.0" cy="686.3" r="11.8" fill="#0053ff" stroke="#00236b"/>
<circle cx="1082.2" cy="690.9" r="11.8" fill="#004cff" stroke="#00206b"/>
<circle cx="1078.2" cy="699.0" r="11.8" fill="#0093ff" stroke="#003e6b"/>
<circle cx="1139.1" cy="718.4" r="11.8" fill="#005bff" stroke="#00266b"/>
<circle cx="1136.8" cy="743.8" r="11.8" fill="#009bff" stroke="#00416b"/>
<circle cx="1061.2" cy="700.7" r="11.8" fill="#0053ff" stroke="#00236b"/>
<circle cx="1103.2" cy="699.4" r="11.8" fill="#005bff" stroke="#00266b"/>
<circle cx="1123.7" cy="713.5" r="11.8" fill="#0054ff" stroke="#00236b"/>
<circle cx="1134.2" cy="709.2" r="11.8" fill="#009eff" stroke="#00426b"/>
<circle cx="1167.0" cy="745.1" r="11.8" fill="#0073ff" stroke="#00306b"/>
<circle cx="1279.2" cy="678.8" r="11.8" fill="#0070ff" stroke="#002f6b"/>
<circle cx="1215.7" cy="678.6" r="11.8" fill="#006aff" stroke="#002d6b"/>
<circle cx="1289.6" cy="679.4" r="11.8" fill="#0077ff" stroke="#00326b"/>
<circle cx="1299.2" cy="684.1" r="11.8" fill="#004aff" stroke="#001f6b"/>
<circle cx="1314.7" cy="683.1" r="11.8" fill="#0052ff" stroke="#00226b"/>
<circle cx="1247.9" cy="679.9" r="11.8" fill="#007bff" stroke="#00346b"/>
<circle cx="1237.3" cy="680.5" r="11.8" fill="#0071ff" stroke="#002f6b"/>
<circle cx="1331.6" cy="681.8" r="11.8" fill="#006fff" stroke="#002f6b"/>
<circle cx="1227.0" cy="682.3" r="11.8" fill="#0073ff" stroke="#00306b"/>
<circle cx="1261.3" cy="682.1" r="11.8" fill="#004fff" stroke="#00216b"/>
<circle cx="1280.8" cy="712.6" r="11.8" fill="#0052ff" stroke="#00226b"/>
<circle cx="1230.7" cy="715.1" r="11.8" fill="#006aff" stroke="#002d6b"/>
<circle cx="1272.1" cy="712.8" r="11.8" fill="#006aff" stroke="#002c6b"/>
<circle cx="1219.2" cy="709.9" r="11.8" fill="#004dff" stroke="#00206b"/>
<circle cx="1254.7" cy="720.2" r="11.8" fill="#0077ff" stroke="#00326b"/>
<circle cx="1223.0" cy="700.5" r="11.8" fill="#004dff" stroke="#00206b"/>
<circle cx="1243.6" cy="714.2" r="11.8" fill="#004eff" stroke="#00216b"/>
<circle cx="1261.0" cy="711.6" r="11.8" fill="#0057ff" stroke="#00256b"/>
<circle cx="1276.8" cy="720.5" r="11.8" fill="#007bff" stroke="#00346b"/>
<circle cx="1183.7" cy="771.5" r="11.8" fill="#0033ff" stroke="#00156b"/>
<circle cx="1186.6" cy="782.8" r="11.8" fill="#003aff" stroke="#00186b"/>
<circle cx="1191.7" cy="791.2" r="11.8" fill="#0052ff" stroke="#00236b"/>
<circle cx="1190.1" cy="793.0" r="11.8" fill="#0038ff" stroke="#00186b"/>
<circle cx="1187.0" cy="804.4" r="11.8" fill="#005bff" stroke="#00266b"/>
<circle cx="1184.9" cy="816.9" r="11.8" fill="#0055ff" stroke="#00246b"/>
<circle cx="1207.0" cy="783.7" r="11.8" fill="#0038ff" stroke="#00186b"/>
<circle cx="1218.9" cy="784.5" r="11.8" fill="#0055ff" stroke="#00246b"/>
<circle cx="1231.3" cy="784.3" r="11.8" fill="#004dff" stroke="#00206b"/>
<circle cx="1230.9" cy="784.7" r="11.8" fill="#0034ff" stroke="#00166b"/>
<circle cx="1241.8" cy="789.4" r="11.8" fill="#0056ff" stroke="#00246b"/>
<circle cx="1252.0" cy="793.2" r="11.8" fill="#002dff" stroke="#00136b"/>
<circle cx="1263.4" cy="795.4" r="11.8" fill="#0055ff" stroke="#00246b"/>
<circle cx="1266.6" cy="776.1" r="11.8" fill="#0036ff" stroke="#00176b"/>
<circle cx="1274.9" cy="775.2" r="11.8" fill="#0052ff" stroke="#00236b"/>
<circle cx="1287.5" cy="777.7" r="11.8" fill="#0053ff" stroke="#00236b"/>
<circle cx="1298.3" cy="776.8" r="11.8" fill="#004fff" stroke="#00216b"/>
<circle cx="1296.6" cy="775.7" r="11.8" fill="#003bff" stroke="#00196b"/>
<circle cx="1300.0" cy="787.1" r="11.8" fill="#005cff" stroke="#00266b"/>
<circle cx="1305.1" cy="793.3" r="11.8" fill="#0051ff" stroke="#00226b"/>
<circle cx="1308.2" cy="802.2" r="11.8" fill="#0059ff" stroke="#00256b"/>
<circle cx="1322.4" cy="790.7" r="11.8" fill="#0034ff" stroke="#00166b"/>
<circle cx="1329.1" cy="782.2" r="11.8" fill="#002fff" stroke="#00146b"/>
<circle cx="1335.0" cy="773.5" r="11.8" fill="#002fff" stroke="#00146b"/>
<circle cx="1337.5" cy="773.5" r="11.8" fill="#0033ff" stroke="#00156b"/>
<circle cx="1346.7" cy="779.7" r="11.8" fill="#004dff" stroke="#00216b"/>
<circle cx="1357.0" cy="783.4" r="11.8" fill="#004eff" stroke="#00216b"/>
<circle cx="602.3" cy="94.6" r="11.8" fill="#f2fb05" stroke="#656a02"/>
<circle cx="592.0" cy="99.2" r="11.8" fill="#f2fb05" stroke="#656a02"/>
<circle cx="813.0" cy="130.5" r="11.8" fill="#ffa300" stroke="#6b4400"/>
<circle cx="652.8" cy="205.9" r="11.8" fill="#ffc000" stroke="#6b5100"/>
<circle cx="672.5" cy="214.5" r="11.8" fill="#b4ff43" stroke="#4c6b1c"/>
<circle cx="664.8" cy="202.0" r="11.8" fill="#b4ff43" stroke="#4c6b1c"/>
<circle cx="658.0" cy="183.6" r="11.8" fill="#b4ff43" stroke="#4c6b1c"/>
<circle cx="690.2" cy="169.9" r="11.8" fill="#f2fb05" stroke="#656a02"/>
<circle cx="684.5" cy="184.5" r="11.8" fill="#f2fb05" stroke="#656a02"/>
<circle cx="496.9" cy="251.3" r="11.8" fill="#6cff8b" stroke="#2d6b3a"/>
<circle cx="485.0" cy="246.5" r="11.8" fill="#6cff8b" stroke="#2d6b3a"/>
<circle cx="473.8" cy="241.9" r="11.8" fill="#6cff8b" stroke="#2d6b3a"/>
<circle cx="628.0" cy="253.4" r="11.8" fill="#d3ff24" stroke="#596b0f"/>
<circle cx="630.6" cy="247.9" r="11.8" fill="#d3ff24" stroke="#596b0f"/>
<circle cx="570.6" cy="270.1" r="11.8" fill="#f2fb05" stroke="#656a02"/>
<circle cx="563.8" cy="296.2" r="11.8" fill="#f2fb05" stroke="#656a02"/>
<circle cx="588.6" cy="283.9" r="11.8" fill="#f2fb05" stroke="#656a02"/>
<circle cx="563.8" cy="289.0" r="11.8" fill="#f2fb05" stroke="#656a02"/>
<circle cx="628.9" cy="280.4" r="11.8" fill="#ffe100" stroke="#6b5e00"/>
<circle cx="616.0" cy="279.6" r="11.8" fill="#f2fb05" stroke="#656a02"/>
<circle cx="616.9" cy="298.4" r="11.8" fill="#f2fb05" stroke="#656a02"/>
<circle cx="694.0" cy="297.6" r="11.8" fill="#ffa300" stroke="#6b4400"/>
<circle cx="751.3" cy="294.1" r="11.8" fill="#00dffc" stroke="#005e6a"/>
<circle cx="739.3" cy="296.7" r="11.8" fill="#00dffc" stroke="#005e6a"/>
<circle cx="825.0" cy="175.9" r="11.8" fill="#ffa300" stroke="#6b4400"/>
<circle cx="819.0" cy="203.3" r="11.8" fill="#ffa300" stroke="#6b4400"/>
<circle cx="901.2" cy="88.6" r="11.8" fill="#d3ff24" stroke="#596b0f"/>
<circle cx="913.2" cy="88.6" r="11.8" fill="#d3ff24" stroke="#596b0f"/>
<circle cx="907.2" cy="95.1" r="11.8" fill="#d3ff24" stroke="#596b0f"/>
<circle cx="920.9" cy="152.8" r="11.8" fill="#ffa300" stroke="#6b4400"/>
<circle cx="914.1" cy="142.5" r="11.8" fill="#ffa300" stroke="#6b4400"/>
<circle cx="906.4" cy="146.0" r="11.8" fill="#ffa300" stroke="#6b4400"/>
<circle cx="898.6" cy="149.4" r="11.8" fill="#ffa300" stroke="#6b4400"/>
<circle cx="929.5" cy="134.8" r="11.8" fill="#ffe100" stroke="#6b5e00"/>
<circle cx="951.7" cy="137.4" r="11.8" fill="#ffe100" stroke="#6b5e00"/>
<circle cx="932.6" cy="140.0" r="11.8" fill="#ffe100" stroke="#6b5e00"/>
<circle cx="976.6" cy="147.7" r="11.8" fill="#ffe100" stroke="#6b5e00"/>
<circle cx="1027.1" cy="176.8" r="11.8" fill="#f2fb05" stroke="#656a02"/>
<circle cx="1021.1" cy="175.1" r="11.8" fill="#f2fb05" stroke="#656a02"/>
<circle cx="1135.9" cy="205.9" r="11.8" fill="#ff8000" stroke="#6b3600"/>
<circle cx="987.7" cy="278.7" r="11.8" fill="#ff6e00" stroke="#6b2e00"/>
<circle cx="975.7" cy="271.9" r="11.8" fill="#ff6e00" stroke="#6b2e00"/>
<circle cx="586.9" cy="319.8" r="11.8" fill="#f2fb05" stroke="#656a02"/>
<circle cx="582.6" cy="312.4" r="11.8" fill="#f2fb05" stroke="#656a02"/>
<circle cx="711.9" cy="307.3" r="11.8" fill="#ffa300" stroke="#6b4400"/>
<circle cx="804.4" cy="304.7" r="11.8" fill="#00dffc" stroke="#005e6a"/>
<circle cx="791.6" cy="310.7" r="11.8" fill="#00dffc" stroke="#005e6a"/>
<circle cx="748.8" cy="331.2" r="11.8" fill="#ffa300" stroke="#6b4400"/>
<circle cx="705.9" cy="324.4" r="11.8" fill="#6cff8b" stroke="#2d6b3a"/>
<circle cx="719.6" cy="327.8" r="11.8" fill="#6cff8b" stroke="#2d6b3a"/>
<circle cx="703.4" cy="349.2" r="11.8" fill="#f2fb05" stroke="#656a02"/>
<circle cx="714.5" cy="355.2" r="11.8" fill="#f2fb05" stroke="#656a02"/>
<circle cx="722.2" cy="361.2" r="11.8" fill="#f2fb05" stroke="#656a02"/>
<circle cx="733.4" cy="345.0" r="11.8" fill="#6cff8b" stroke="#2d6b3a"/>
<circle cx="740.2" cy="344.1" r="11.8" fill="#6cff8b" stroke="#2d6b3a"/>
<circle cx="746.2" cy="355.2" r="11.8" fill="#6cff8b" stroke="#2d6b3a"/>
<circle cx="790.7" cy="338.1" r="11.8" fill="#0073ff" stroke="#00306b"/>
<circle cx="788.2" cy="369.8" r="11.8" fill="#0073ff" stroke="#00306b"/>
<circle cx="681.1" cy="367.2" r="11.8" fill="#ffe100" stroke="#6b5e00"/>
<circle cx="699.1" cy="374.9" r="11.8" fill="#ffa300" stroke="#6b4400"/>
<circle cx="738.5" cy="371.5" r="11.8" fill="#f2fb05" stroke="#656a02"/>
<circle cx="759.0" cy="379.2" r="11.8" fill="#f2fb05" stroke="#656a02"/>
<circle cx="763.3" cy="388.6" r="11.8" fill="#f2fb05" stroke="#656a02"/>
<circle cx="719.6" cy="381.8" r="11.8" fill="#ffe100" stroke="#6b5e00"/>
<circle cx="716.2" cy="388.6" r="11.8" fill="#ffe100" stroke="#6b5e00"/>
<circle cx="747.1" cy="385.2" r="11.8" fill="#b4ff43" stroke="#4c6b1c"/>
<circle cx="741.1" cy="395.5" r="11.8" fill="#b4ff43" stroke="#4c6b1c"/>
<circle cx="805.3" cy="381.8" r="11.8" fill="#0073ff" stroke="#00306b"/>
<circle cx="808.7" cy="402.3" r="11.8" fill="#0073ff" stroke="#00306b"/>
<circle cx="784.7" cy="392.1" r="11.8" fill="#6cff8b" stroke="#2d6b3a"/>
<circle cx="786.5" cy="404.1" r="11.8" fill="#6cff8b" stroke="#2d6b3a"/>
<circle cx="767.6" cy="417.8" r="11.8" fill="#0053ff" stroke="#00236b"/>
<circle cx="798.4" cy="416.0" r="11.8" fill="#95ff62" stroke="#3f6b29"/>
<circle cx="808.7" cy="421.2" r="11.8" fill="#95ff62" stroke="#3f6b29"/>
<circle cx="544.4" cy="330.4" r="11.8" fill="#f2fb05" stroke="#656a02"/>
<circle cx="541.5" cy="358.7" r="11.8" fill="#f2fb05" stroke="#656a02"/>
<circle cx="560.3" cy="352.7" r="11.8" fill="#6cff8b" stroke="#2d6b3a"/>
<circle cx="551.8" cy="348.9" r="11.8" fill="#6cff8b" stroke="#2d6b3a"/>
<circle cx="543.2" cy="345.8" r="11.8" fill="#6cff8b" stroke="#2d6b3a"/>
<circle cx="534.6" cy="343.8" r="11.8" fill="#6cff8b" stroke="#2d6b3a"/>
<circle cx="526.1" cy="341.5" r="11.8" fill="#6cff8b" stroke="#2d6b3a"/>
<circle cx="515.8" cy="339.0" r="11.8" fill="#6cff8b" stroke="#2d6b3a"/>
<circle cx="506.4" cy="334.2" r="11.8" fill="#6cff8b" stroke="#2d6b3a"/>
<circle cx="456.7" cy="361.2" r="11.8" fill="#b4ff43" stroke="#4c6b1c"/>
<circle cx="457.2" cy="369.8" r="11.8" fill="#b4ff43" stroke="#4c6b1c"/>
<circle cx="458.4" cy="381.8" r="11.8" fill="#b4ff43" stroke="#4c6b1c"/>
<circle cx="484.1" cy="397.2" r="11.8" fill="#6cff8b" stroke="#2d6b3a"/>
<circle cx="492.7" cy="396.9" r="11.8" fill="#6cff8b" stroke="#2d6b3a"/>
<circle cx="503.8" cy="408.9" r="11.8" fill="#6cff8b" stroke="#2d6b3a"/>
<circle cx="570.6" cy="345.0" r="11.8" fill="#6cff8b" stroke="#2d6b3a"/>
<circle cx="568.0" cy="377.5" r="11.8" fill="#6cff8b" stroke="#2d6b3a"/>
<circle cx="580.0" cy="351.8" r="11.8" fill="#15ffe2" stroke="#096b5f"/>
<circle cx="574.9" cy="364.7" r="11.8" fill="#15ffe2" stroke="#096b5f"/>
<circle cx="603.2" cy="346.7" r="11.8" fill="#f2fb05" stroke="#656a02"/>
<circle cx="601.4" cy="361.2" r="11.8" fill="#f2fb05" stroke="#656a02"/>
<circle cx="621.1" cy="333.8" r="11.8" fill="#48ffaf" stroke="#1e6b49"/>
<circle cx="627.1" cy="344.1" r="11.8" fill="#48ffaf" stroke="#1e6b49"/>
<circle cx="623.7" cy="356.1" r="11.8" fill="#15ffe2" stroke="#096b5f"/>
<circle cx="615.1" cy="398.9" r="11.8" fill="#d3ff24" stroke="#596b0f"/>
<circle cx="604.0" cy="390.3" r="11.8" fill="#d3ff24" stroke="#596b0f"/>
<circle cx="618.6" cy="373.2" r="11.8" fill="#15ffe2" stroke="#096b5f"/>
<circle cx="557.8" cy="384.4" r="11.8" fill="#d3ff24" stroke="#596b0f"/>
<circle cx="568.0" cy="389.5" r="11.8" fill="#f2fb05" stroke="#656a02"/>
<circle cx="549.2" cy="404.9" r="11.8" fill="#f2fb05" stroke="#656a02"/>
<circle cx="547.5" cy="416.0" r="11.8" fill="#f2fb05" stroke="#656a02"/>
<circle cx="544.9" cy="427.2" r="11.8" fill="#f2fb05" stroke="#656a02"/>
<circle cx="656.3" cy="379.2" r="11.8" fill="#ffe100" stroke="#6b5e00"/>
<circle cx="658.8" cy="398.9" r="11.8" fill="#b4ff43" stroke="#4c6b1c"/>
<circle cx="650.3" cy="394.1" r="11.8" fill="#b4ff43" stroke="#4c6b1c"/>
<circle cx="637.4" cy="407.5" r="11.8" fill="#ffe100" stroke="#6b5e00"/>
<circle cx="623.7" cy="422.9" r="11.8" fill="#ffe100" stroke="#6b5e00"/>
<circle cx="705.9" cy="409.2" r="11.8" fill="#ffa300" stroke="#6b4400"/>
<circle cx="693.1" cy="403.2" r="11.8" fill="#d3ff24" stroke="#596b0f"/>
<circle cx="688.0" cy="415.2" r="11.8" fill="#d3ff24" stroke="#596b0f"/>
<circle cx="682.0" cy="405.8" r="11.8" fill="#d3ff24" stroke="#596b0f"/>
<circle cx="670.0" cy="421.2" r="11.8" fill="#ffa300" stroke="#6b4400"/>
<circle cx="688.8" cy="433.2" r="11.8" fill="#ffe100" stroke="#6b5e00"/>
<circle cx="623.7" cy="434.9" r="11.8" fill="#d3ff24" stroke="#596b0f"/>
<circle cx="628.9" cy="460.6" r="11.8" fill="#d3ff24" stroke="#596b0f"/>
<circle cx="644.3" cy="429.7" r="11.8" fill="#00dffc" stroke="#005e6a"/>
<circle cx="669.1" cy="453.7" r="11.8" fill="#ffa300" stroke="#6b4400"/>
<circle cx="654.6" cy="445.2" r="11.8" fill="#00dffc" stroke="#005e6a"/>
<circle cx="654.6" cy="476.0" r="11.8" fill="#b4ff43" stroke="#4c6b1c"/>
<circle cx="643.4" cy="469.1" r="11.8" fill="#b4ff43" stroke="#4c6b1c"/>
<circle cx="681.1" cy="464.9" r="11.8" fill="#6cff8b" stroke="#2d6b3a"/>
<circle cx="593.7" cy="462.3" r="11.8" fill="#ffe100" stroke="#6b5e00"/>
<circle cx="611.7" cy="473.4" r="11.8" fill="#ffe100" stroke="#6b5e00"/>
<circle cx="592.0" cy="483.7" r="11.8" fill="#ffe100" stroke="#6b5e00"/>
<circle cx="560.3" cy="470.9" r="11.8" fill="#48ffaf" stroke="#1e6b49"/>
<circle cx="555.2" cy="470.0" r="11.8" fill="#48ffaf" stroke="#1e6b49"/>
<circle cx="544.9" cy="469.1" r="11.8" fill="#48ffaf" stroke="#1e6b49"/>
<circle cx="721.4" cy="438.3" r="11.8" fill="#6cff8b" stroke="#2d6b3a"/>
<circle cx="743.6" cy="433.2" r="11.8" fill="#b4ff43" stroke="#4c6b1c"/>
<circle cx="738.5" cy="457.2" r="11.8" fill="#15ffe2" stroke="#096b5f"/>
<circle cx="722.2" cy="457.2" r="11.8" fill="#0053ff" stroke="#00236b"/>
<circle cx="700.8" cy="479.4" r="11.8" fill="#0099ff" stroke="#00406b"/>
<circle cx="843.8" cy="332.1" r="11.8" fill="#15ffe2" stroke="#096b5f"/>
<circle cx="837.8" cy="327.8" r="11.8" fill="#15ffe2" stroke="#096b5f"/>
<circle cx="826.7" cy="321.8" r="11.8" fill="#15ffe2" stroke="#096b5f"/>
<circle cx="862.7" cy="319.3" r="11.8" fill="#0099ff" stroke="#00406b"/>
<circle cx="968.0" cy="315.8" r="11.8" fill="#ffc000" stroke="#6b5100"/>
<circle cx="965.5" cy="309.0" r="11.8" fill="#ffc000" stroke="#6b5100"/>
<circle cx="955.2" cy="303.8" r="11.8" fill="#ffc000" stroke="#6b5100"/>
<circle cx="894.4" cy="305.6" r="11.8" fill="#ffc000" stroke="#6b5100"/>
<circle cx="910.6" cy="285.9" r="11.8" fill="#ffe100" stroke="#6b5e00"/>
<circle cx="909.8" cy="292.7" r="11.8" fill="#ffe100" stroke="#6b5e00"/>
<circle cx="934.6" cy="296.6" r="11.8" fill="#ffe100" stroke="#6b5e00"/>
<circle cx="936.3" cy="320.1" r="11.8" fill="#ffc000" stroke="#6b5100"/>
<circle cx="927.8" cy="335.5" r="11.8" fill="#ffc000" stroke="#6b5100"/>
<circle cx="922.6" cy="329.5" r="11.8" fill="#ffc000" stroke="#6b5100"/>
<circle cx="910.6" cy="327.8" r="11.8" fill="#ffc000" stroke="#6b5100"/>
<circle cx="1031.4" cy="307.3" r="11.8" fill="#0053ff" stroke="#00236b"/>
<circle cx="1019.4" cy="297.8" r="11.8" fill="#0053ff" stroke="#00236b"/>
<circle cx="1007.4" cy="328.7" r="11.8" fill="#ffe100" stroke="#6b5e00"/>
<circle cx="1008.3" cy="320.1" r="11.8" fill="#ffe100" stroke="#6b5e00"/>
<circle cx="1033.1" cy="332.1" r="11.8" fill="#0053ff" stroke="#00236b"/>
<circle cx="1025.4" cy="332.1" r="11.8" fill="#0053ff" stroke="#00236b"/>
<circle cx="1123.1" cy="303.0" r="11.8" fill="#ff8000" stroke="#6b3600"/>
<circle cx="1109.4" cy="296.1" r="11.8" fill="#ff8000" stroke="#6b3600"/>
<circle cx="1189.9" cy="321.0" r="11.8" fill="#ffe100" stroke="#6b5e00"/>
<circle cx="1183.9" cy="313.3" r="11.8" fill="#ffe100" stroke="#6b5e00"/>
<circle cx="1175.3" cy="303.8" r="11.8" fill="#ffe100" stroke="#6b5e00"/>
<circle cx="828.4" cy="364.7" r="11.8" fill="#00dffc" stroke="#005e6a"/>
<circle cx="1010.9" cy="353.5" r="11.8" fill="#6cff8b" stroke="#2d6b3a"/>
<circle cx="1005.7" cy="362.9" r="11.8" fill="#15ffe2" stroke="#096b5f"/>
<circle cx="997.1" cy="373.2" r="11.8" fill="#0053ff" stroke="#00236b"/>
<circle cx="962.9" cy="387.8" r="11.8" fill="#0053ff" stroke="#00236b"/>
<circle cx="974.0" cy="398.9" r="11.8" fill="#0053ff" stroke="#00236b"/>
<circle cx="978.3" cy="385.2" r="11.8" fill="#0053ff" stroke="#00236b"/>
<circle cx="1076.8" cy="368.1" r="11.8" fill="#0053ff" stroke="#00236b"/>
<circle cx="1075.1" cy="361.2" r="11.8" fill="#0053ff" stroke="#00236b"/>
<circle cx="1040.8" cy="392.1" r="11.8" fill="#0073ff" stroke="#00306b"/>
<circle cx="1159.0" cy="395.5" r="11.8" fill="#0053ff" stroke="#00236b"/>
<circle cx="1150.5" cy="388.6" r="11.8" fill="#0053ff" stroke="#00236b"/>
<circle cx="1083.7" cy="423.8" r="11.8" fill="#ffa300" stroke="#6b4400"/>
<circle cx="1083.7" cy="417.4" r="11.8" fill="#ffa300" stroke="#6b4400"/>
<circle cx="1140.2" cy="424.6" r="11.8" fill="#ffe100" stroke="#6b5e00"/>
<circle cx="1162.5" cy="446.0" r="11.8" fill="#0053ff" stroke="#00236b"/>
<circle cx="1150.5" cy="443.5" r="11.8" fill="#0053ff" stroke="#00236b"/>
<circle cx="843.8" cy="380.1" r="11.8" fill="#15ffe2" stroke="#096b5f"/>
<circle cx="857.5" cy="402.3" r="11.8" fill="#15ffe2" stroke="#096b5f"/>
<circle cx="857.5" cy="388.6" r="11.8" fill="#15ffe2" stroke="#096b5f"/>
<circle cx="827.6" cy="409.2" r="11.8" fill="#f2fb05" stroke="#656a02"/>
<circle cx="811.3" cy="385.2" r="11.8" fill="#0073ff" stroke="#00306b"/>
<circle cx="820.7" cy="394.6" r="11.8" fill="#0073ff" stroke="#00306b"/>
<circle cx="843.8" cy="414.3" r="11.8" fill="#0053ff" stroke="#00236b"/>
<circle cx="916.6" cy="402.0" r="11.8" fill="#ff6800" stroke="#6b2c00"/>
<circle cx="926.1" cy="381.8" r="11.8" fill="#15ffe2" stroke="#096b5f"/>
<circle cx="920.9" cy="380.1" r="11.8" fill="#15ffe2" stroke="#096b5f"/>
<circle cx="891.8" cy="414.3" r="11.8" fill="#15ffe2" stroke="#096b5f"/>
<circle cx="912.3" cy="387.3" r="11.8" fill="#15ffe2" stroke="#096b5f"/>
<circle cx="891.8" cy="402.3" r="11.8" fill="#0033ff" stroke="#00156b"/>
<circle cx="886.7" cy="392.1" r="11.8" fill="#0033ff" stroke="#00156b"/>
<circle cx="895.2" cy="431.5" r="11.8" fill="#ff8000" stroke="#6b3600"/>
<circle cx="974.9" cy="423.8" r="11.8" fill="#15ffe2" stroke="#096b5f"/>
<circle cx="978.3" cy="437.5" r="11.8" fill="#00dffc" stroke="#005e6a"/>
<circle cx="950.0" cy="433.2" r="11.8" fill="#0073ff" stroke="#00306b"/>
<circle cx="953.5" cy="444.3" r="11.8" fill="#0073ff" stroke="#00306b"/>
<circle cx="958.6" cy="455.4" r="11.8" fill="#0073ff" stroke="#00306b"/>
<circle cx="955.2" cy="470.9" r="11.8" fill="#0073ff" stroke="#00306b"/>
<circle cx="965.5" cy="467.4" r="11.8" fill="#0073ff" stroke="#00306b"/>
<circle cx="1006.6" cy="433.2" r="11.8" fill="#0053ff" stroke="#00236b"/>
<circle cx="1020.3" cy="438.3" r="11.8" fill="#0053ff" stroke="#00236b"/>
<circle cx="1016.0" cy="424.6" r="11.8" fill="#0033ff" stroke="#00156b"/>
<circle cx="1015.1" cy="457.2" r="11.8" fill="#0053ff" stroke="#00236b"/>
<circle cx="990.3" cy="447.7" r="11.8" fill="#0073ff" stroke="#00306b"/>
<circle cx="840.4" cy="429.7" r="11.8" fill="#0053ff" stroke="#00236b"/>
<circle cx="813.0" cy="438.3" r="11.8" fill="#0053ff" stroke="#00236b"/>
<circle cx="861.0" cy="438.3" r="11.8" fill="#15ffe2" stroke="#096b5f"/>
<circle cx="878.1" cy="439.2" r="11.8" fill="#15ffe2" stroke="#096b5f"/>
<circle cx="835.3" cy="450.3" r="11.8" fill="#0099ff" stroke="#00406b"/>
<circle cx="883.2" cy="464.0" r="11.8" fill="#0099ff" stroke="#00406b"/>
<circle cx="823.3" cy="465.7" r="11.8" fill="#0073ff" stroke="#00306b"/>
<circle cx="859.2" cy="465.7" r="11.8" fill="#0053ff" stroke="#00236b"/>
<circle cx="908.9" cy="464.9" r="11.8" fill="#f2fb05" stroke="#656a02"/>
<circle cx="891.8" cy="484.6" r="11.8" fill="#15ffe2" stroke="#096b5f"/>
<circle cx="910.6" cy="484.6" r="11.8" fill="#15ffe2" stroke="#096b5f"/>
<circle cx="931.2" cy="486.3" r="11.8" fill="#15ffe2" stroke="#096b5f"/>
<circle cx="1058.0" cy="484.6" r="11.8" fill="#0053ff" stroke="#00236b"/>
<circle cx="1056.2" cy="477.7" r="11.8" fill="#0053ff" stroke="#00236b"/>
<circle cx="1109.4" cy="482.0" r="11.8" fill="#0053ff" stroke="#00236b"/>
<circle cx="1213.8" cy="426.3" r="11.8" fill="#ffe100" stroke="#6b5e00"/>
<circle cx="1273.8" cy="427.2" r="11.8" fill="#ffe100" stroke="#6b5e00"/>
<circle cx="1303.8" cy="441.7" r="11.8" fill="#ffe100" stroke="#6b5e00"/>
<circle cx="1202.7" cy="454.6" r="11.8" fill="#008cff" stroke="#003b6b"/>
<circle cx="1212.1" cy="463.2" r="11.8" fill="#008cff" stroke="#003b6b"/>
<circle cx="1220.7" cy="468.3" r="11.8" fill="#008cff" stroke="#003b6b"/>
<circle cx="1294.3" cy="478.6" r="11.8" fill="#0053ff" stroke="#00236b"/>
<circle cx="1290.9" cy="488.0" r="11.8" fill="#0053ff" stroke="#00236b"/>
<circle cx="493.5" cy="505.4" r="11.8" fill="#6cff8b" stroke="#2d6b3a"/>
<circle cx="496.9" cy="502.0" r="11.8" fill="#6cff8b" stroke="#2d6b3a"/>
<circle cx="502.1" cy="494.6" r="11.8" fill="#6cff8b" stroke="#2d6b3a"/>
<circle cx="527.8" cy="488.3" r="11.8" fill="#d3ff24" stroke="#596b0f"/>
<circle cx="530.4" cy="497.7" r="11.8" fill="#d3ff24" stroke="#596b0f"/>
<circle cx="676.0" cy="489.1" r="11.8" fill="#6cff8b" stroke="#2d6b3a"/>
<circle cx="610.0" cy="514.0" r="11.8" fill="#6cff8b" stroke="#2d6b3a"/>
<circle cx="613.4" cy="486.6" r="11.8" fill="#ffe100" stroke="#6b5e00"/>
<circle cx="622.0" cy="483.1" r="11.8" fill="#ffe100" stroke="#6b5e00"/>
<circle cx="647.7" cy="481.4" r="11.8" fill="#b4ff43" stroke="#4c6b1c"/>
<circle cx="639.1" cy="495.1" r="11.8" fill="#ffc000" stroke="#6b5100"/>
<circle cx="647.7" cy="503.7" r="11.8" fill="#ffc000" stroke="#6b5100"/>
<circle cx="661.4" cy="500.3" r="11.8" fill="#ffc000" stroke="#6b5100"/>
<circle cx="598.0" cy="507.1" r="11.8" fill="#f2fb05" stroke="#656a02"/>
<circle cx="604.9" cy="500.3" r="11.8" fill="#ffe100" stroke="#6b5e00"/>
<circle cx="634.0" cy="507.1" r="11.8" fill="#b4ff43" stroke="#4c6b1c"/>
<circle cx="664.8" cy="514.0" r="11.8" fill="#ffe100" stroke="#6b5e00"/>
<circle cx="635.7" cy="534.5" r="11.8" fill="#b4ff43" stroke="#4c6b1c"/>
<circle cx="671.7" cy="543.1" r="11.8" fill="#b4ff43" stroke="#4c6b1c"/>
<circle cx="618.6" cy="519.1" r="11.8" fill="#00ccff" stroke="#00566b"/>
<circle cx="617.7" cy="528.5" r="11.8" fill="#00ccff" stroke="#00566b"/>
<circle cx="590.3" cy="533.7" r="11.8" fill="#15ffe2" stroke="#096b5f"/>
<circle cx="687.1" cy="526.0" r="11.8" fill="#15ffe2" stroke="#096b5f"/>
<circle cx="697.4" cy="526.0" r="11.8" fill="#00dffc" stroke="#005e6a"/>
<circle cx="652.8" cy="539.7" r="11.8" fill="#0099ff" stroke="#00406b"/>
<circle cx="654.6" cy="549.9" r="11.8" fill="#0099ff" stroke="#00406b"/>
<circle cx="692.2" cy="553.4" r="11.8" fill="#0099ff" stroke="#00406b"/>
<circle cx="610.0" cy="546.5" r="11.8" fill="#ffe100" stroke="#6b5e00"/>
<circle cx="616.9" cy="555.1" r="11.8" fill="#ffe100" stroke="#6b5e00"/>
<circle cx="639.1" cy="558.5" r="11.8" fill="#ffc000" stroke="#6b5100"/>
<circle cx="622.0" cy="567.1" r="11.8" fill="#ffe100" stroke="#6b5e00"/>
<circle cx="599.7" cy="567.1" r="11.8" fill="#f2fb05" stroke="#656a02"/>
<circle cx="613.4" cy="573.9" r="11.8" fill="#ffe100" stroke="#6b5e00"/>
<circle cx="596.3" cy="587.6" r="11.8" fill="#f2fb05" stroke="#656a02"/>
<circle cx="671.7" cy="565.4" r="11.8" fill="#ffe100" stroke="#6b5e00"/>
<circle cx="682.0" cy="579.1" r="11.8" fill="#ffc000" stroke="#6b5100"/>
<circle cx="692.2" cy="580.8" r="11.8" fill="#ffa300" stroke="#6b4400"/>
<circle cx="647.7" cy="597.9" r="11.8" fill="#6cff8b" stroke="#2d6b3a"/>
<circle cx="646.0" cy="589.3" r="11.8" fill="#15ffe2" stroke="#096b5f"/>
<circle cx="642.6" cy="580.8" r="11.8" fill="#15ffe2" stroke="#096b5f"/>
<circle cx="632.3" cy="575.6" r="11.8" fill="#15ffe2" stroke="#096b5f"/>
<circle cx="586.0" cy="577.4" r="11.8" fill="#15ffe2" stroke="#096b5f"/>
<circle cx="447.3" cy="536.2" r="11.8" fill="#6cff8b" stroke="#2d6b3a"/>
<circle cx="455.8" cy="556.8" r="11.8" fill="#6cff8b" stroke="#2d6b3a"/>
<circle cx="441.3" cy="549.1" r="11.8" fill="#6cff8b" stroke="#2d6b3a"/>
<circle cx="563.8" cy="596.2" r="11.8" fill="#95ff62" stroke="#3f6b29"/>
<circle cx="586.0" cy="604.8" r="11.8" fill="#95ff62" stroke="#3f6b29"/>
<circle cx="579.2" cy="601.3" r="11.8" fill="#95ff62" stroke="#3f6b29"/>
<circle cx="522.6" cy="606.5" r="11.8" fill="#95ff62" stroke="#3f6b29"/>
<circle cx="567.2" cy="608.2" r="11.8" fill="#95ff62" stroke="#3f6b29"/>
<circle cx="547.5" cy="606.5" r="11.8" fill="#95ff62" stroke="#3f6b29"/>
<circle cx="574.0" cy="632.2" r="11.8" fill="#95ff62" stroke="#3f6b29"/>
<circle cx="567.2" cy="625.3" r="11.8" fill="#95ff62" stroke="#3f6b29"/>
<circle cx="543.2" cy="632.2" r="11.8" fill="#95ff62" stroke="#3f6b29"/>
<circle cx="531.2" cy="623.6" r="11.8" fill="#95ff62" stroke="#3f6b29"/>
<circle cx="618.6" cy="632.2" r="11.8" fill="#ffe100" stroke="#6b5e00"/>
<circle cx="617.7" cy="620.2" r="11.8" fill="#ffe100" stroke="#6b5e00"/>
<circle cx="697.4" cy="597.9" r="11.8" fill="#48ffaf" stroke="#1e6b49"/>
<circle cx="712.8" cy="587.6" r="11.8" fill="#48ffaf" stroke="#1e6b49"/>
<circle cx="695.7" cy="645.9" r="11.8" fill="#ff8000" stroke="#6b3600"/>
<circle cx="712.8" cy="632.2" r="11.8" fill="#ffa300" stroke="#6b4400"/>
<circle cx="724.8" cy="666.4" r="11.8" fill="#ffa300" stroke="#6b4400"/>
<circle cx="719.6" cy="685.3" r="11.8" fill="#ffa300" stroke="#6b4400"/>
<circle cx="793.3" cy="688.7" r="11.8" fill="#6cff8b" stroke="#2d6b3a"/>
<circle cx="784.7" cy="683.6" r="11.8" fill="#6cff8b" stroke="#2d6b3a"/>
<circle cx="772.8" cy="669.9" r="11.8" fill="#6cff8b" stroke="#2d6b3a"/>
<circle cx="755.6" cy="659.6" r="11.8" fill="#6cff8b" stroke="#2d6b3a"/>
<circle cx="526.1" cy="683.6" r="11.8" fill="#86ff71" stroke="#386b30"/>
<circle cx="538.1" cy="688.7" r="11.8" fill="#86ff71" stroke="#386b30"/>
<circle cx="553.5" cy="683.6" r="11.8" fill="#86ff71" stroke="#386b30"/>
<circle cx="800.5" cy="490.7" r="11.8" fill="#b4ff43" stroke="#4c6b1c"/>
<circle cx="823.6" cy="479.8" r="11.8" fill="#ff6800" stroke="#6b2c00"/>
<circle cx="831.3" cy="504.2" r="11.8" fill="#15ffe2" stroke="#096b5f"/>
<circle cx="961.7" cy="509.4" r="11.8" fill="#ffa300" stroke="#6b4400"/>
<circle cx="931.5" cy="528.7" r="11.8" fill="#ffa300" stroke="#6b4400"/>
<circle cx="887.9" cy="551.8" r="11.8" fill="#b4ff43" stroke="#4c6b1c"/>
<circle cx="695.1" cy="580.0" r="11.8" fill="#ffa300" stroke="#6b4400"/>
<circle cx="737.5" cy="562.1" r="11.8" fill="#00dffc" stroke="#005e6a"/>
<circle cx="706.7" cy="589.0" r="11.8" fill="#48ffaf" stroke="#1e6b49"/>
<circle cx="963.7" cy="595.5" r="11.8" fill="#d3ff24" stroke="#596b0f"/>
<circle cx="982.9" cy="564.6" r="11.8" fill="#6cff8b" stroke="#2d6b3a"/>
<circle cx="693.9" cy="523.5" r="11.8" fill="#0099ff" stroke="#00406b"/>
<circle cx="711.8" cy="542.8" r="11.8" fill="#0099ff" stroke="#00406b"/>
<circle cx="832.6" cy="519.7" r="11.8" fill="#0099ff" stroke="#00406b"/>
<circle cx="970.7" cy="521.6" r="11.8" fill="#0099ff" stroke="#00406b"/>
<circle cx="913.6" cy="546.6" r="11.8" fill="#0099ff" stroke="#00406b"/>
<circle cx="761.9" cy="522.2" r="11.8" fill="#0073ff" stroke="#00306b"/>
<circle cx="769.7" cy="545.4" r="11.8" fill="#0053ff" stroke="#00236b"/>
<circle cx="767.1" cy="562.1" r="11.8" fill="#0053ff" stroke="#00236b"/>
<circle cx="756.8" cy="511.9" r="11.8" fill="#0099ff" stroke="#00406b"/>
<circle cx="805.6" cy="529.9" r="11.8" fill="#0053ff" stroke="#00236b"/>
<circle cx="801.8" cy="545.4" r="11.8" fill="#0053ff" stroke="#00236b"/>
<circle cx="859.6" cy="488.8" r="11.8" fill="#0053ff" stroke="#00236b"/>
<circle cx="860.9" cy="501.7" r="11.8" fill="#0053ff" stroke="#00236b"/>
<circle cx="932.8" cy="508.1" r="11.8" fill="#0073ff" stroke="#00306b"/>
<circle cx="988.1" cy="541.5" r="11.8" fill="#0099ff" stroke="#00406b"/>
<circle cx="745.2" cy="495.2" r="11.8" fill="#0073ff" stroke="#00306b"/>
<circle cx="813.3" cy="497.8" r="11.8" fill="#0053ff" stroke="#00236b"/>
<circle cx="857.0" cy="465.7" r="11.8" fill="#0053ff" stroke="#00236b"/>
<circle cx="876.3" cy="499.1" r="11.8" fill="#0073ff" stroke="#00306b"/>
<circle cx="890.4" cy="506.8" r="11.8" fill="#0073ff" stroke="#00306b"/>
<circle cx="902.0" cy="532.5" r="11.8" fill="#0099ff" stroke="#00406b"/>
<circle cx="929.0" cy="500.4" r="11.8" fill="#0073ff" stroke="#00306b"/>
<circle cx="695.1" cy="499.1" r="11.8" fill="#0099ff" stroke="#00406b"/>
<circle cx="715.7" cy="482.4" r="11.8" fill="#0073ff" stroke="#00306b"/>
<circle cx="763.2" cy="443.9" r="11.8" fill="#0073ff" stroke="#00306b"/>
<circle cx="779.9" cy="447.7" r="11.8" fill="#0053ff" stroke="#00236b"/>
<circle cx="813.3" cy="445.1" r="11.8" fill="#0033ff" stroke="#00156b"/>
<circle cx="985.5" cy="447.7" r="11.8" fill="#0073ff" stroke="#00306b"/>
<circle cx="732.4" cy="482.4" r="11.8" fill="#0073ff" stroke="#00306b"/>
<circle cx="728.5" cy="497.8" r="11.8" fill="#0073ff" stroke="#00306b"/>
<circle cx="756.8" cy="482.4" r="11.8" fill="#0053ff" stroke="#00236b"/>
<circle cx="772.2" cy="488.8" r="11.8" fill="#0053ff" stroke="#00236b"/>
<circle cx="724.7" cy="514.5" r="11.8" fill="#0073ff" stroke="#00306b"/>
<circle cx="732.4" cy="522.2" r="11.8" fill="#0099ff" stroke="#00406b"/>
<circle cx="695.1" cy="555.6" r="11.8" fill="#0053ff" stroke="#00236b"/>
<circle cx="761.9" cy="574.9" r="11.8" fill="#0053ff" stroke="#00236b"/>
<circle cx="823.6" cy="538.9" r="11.8" fill="#0053ff" stroke="#00236b"/>
<circle cx="880.2" cy="513.2" r="11.8" fill="#0053ff" stroke="#00236b"/>
<circle cx="876.3" cy="529.9" r="11.8" fill="#0033ff" stroke="#00156b"/>
<circle cx="982.9" cy="495.2" r="11.8" fill="#0073ff" stroke="#00306b"/>
<circle cx="984.2" cy="514.5" r="11.8" fill="#0073ff" stroke="#00306b"/>
<circle cx="908.4" cy="500.4" r="11.8" fill="#0053ff" stroke="#00236b"/>
<circle cx="779.9" cy="581.3" r="11.8" fill="#0053ff" stroke="#00236b"/>
<circle cx="803.1" cy="571.0" r="11.8" fill="#0053ff" stroke="#00236b"/>
<circle cx="787.6" cy="591.6" r="11.8" fill="#0053ff" stroke="#00236b"/>
<circle cx="882.7" cy="598.0" r="11.8" fill="#0033ff" stroke="#00156b"/>
<circle cx="881.4" cy="582.6" r="11.8" fill="#0033ff" stroke="#00156b"/>
<circle cx="953.4" cy="600.6" r="11.8" fill="#0099ff" stroke="#00406b"/>
<circle cx="938.0" cy="592.9" r="11.8" fill="#0099ff" stroke="#00406b"/>
<circle cx="835.2" cy="582.6" r="11.8" fill="#0099ff" stroke="#00406b"/>
<circle cx="846.7" cy="568.5" r="11.8" fill="#0099ff" stroke="#00406b"/>
<circle cx="905.8" cy="553.1" r="11.8" fill="#0099ff" stroke="#00406b"/>
<circle cx="921.3" cy="562.1" r="11.8" fill="#0099ff" stroke="#00406b"/>
<circle cx="844.2" cy="549.2" r="11.8" fill="#0073ff" stroke="#00306b"/>
<circle cx="818.5" cy="556.9" r="11.8" fill="#0053ff" stroke="#00236b"/>
<circle cx="787.6" cy="538.9" r="11.8" fill="#0053ff" stroke="#00236b"/>
<circle cx="744.0" cy="535.1" r="11.8" fill="#0099ff" stroke="#00406b"/>
<circle cx="737.5" cy="580.0" r="11.8" fill="#0073ff" stroke="#00306b"/>
<circle cx="800.5" cy="513.2" r="11.8" fill="#0053ff" stroke="#00236b"/>
<circle cx="778.7" cy="505.5" r="11.8" fill="#0053ff" stroke="#00236b"/>
<circle cx="851.9" cy="514.5" r="11.8" fill="#0053ff" stroke="#00236b"/>
<circle cx="909.7" cy="514.5" r="11.8" fill="#0073ff" stroke="#00306b"/>
<circle cx="920.0" cy="538.9" r="11.8" fill="#0073ff" stroke="#00306b"/>
<circle cx="952.7" cy="498.5" r="11.8" fill="#0033ff" stroke="#00156b"/>
<circle cx="948.2" cy="526.1" r="11.8" fill="#0033ff" stroke="#00156b"/>
<circle cx="840.3" cy="488.8" r="11.8" fill="#0073ff" stroke="#00306b"/>
<circle cx="790.2" cy="468.3" r="11.8" fill="#0073ff" stroke="#00306b"/>
<circle cx="823.6" cy="465.1" r="11.8" fill="#0073ff" stroke="#00306b"/>
<circle cx="1002.6" cy="584.2" r="11.8" fill="#d3ff24" stroke="#596b0f"/>
<circle cx="964.0" cy="592.7" r="11.8" fill="#d3ff24" stroke="#596b0f"/>
<circle cx="976.9" cy="667.7" r="11.8" fill="#00dffc" stroke="#005e6a"/>
<circle cx="927.6" cy="612.0" r="11.8" fill="#0099ff" stroke="#00406b"/>
<circle cx="942.6" cy="605.6" r="11.8" fill="#0099ff" stroke="#00406b"/>
<circle cx="964.0" cy="601.3" r="11.8" fill="#0099ff" stroke="#00406b"/>
<circle cx="1034.7" cy="657.0" r="11.8" fill="#6cff8b" stroke="#2d6b3a"/>
<circle cx="1041.1" cy="676.2" r="11.8" fill="#6cff8b" stroke="#2d6b3a"/>
<circle cx="1071.1" cy="605.6" r="11.8" fill="#15ffe2" stroke="#096b5f"/>
<circle cx="1056.1" cy="609.9" r="11.8" fill="#15ffe2" stroke="#096b5f"/>
<circle cx="1096.8" cy="614.1" r="11.8" fill="#ffa300" stroke="#6b4400"/>
<circle cx="1045.4" cy="635.5" r="11.8" fill="#0073ff" stroke="#00306b"/>
<circle cx="1060.4" cy="642.0" r="11.8" fill="#0073ff" stroke="#00306b"/>
<circle cx="1081.8" cy="648.4" r="11.8" fill="#0073ff" stroke="#00306b"/>
<circle cx="1090.4" cy="627.0" r="11.8" fill="#0073ff" stroke="#00306b"/>
<circle cx="1064.7" cy="671.9" r="11.8" fill="#0053ff" stroke="#00236b"/>
<circle cx="1081.8" cy="678.4" r="11.8" fill="#0053ff" stroke="#00236b"/>
<circle cx="1045.4" cy="500.6" r="11.8" fill="#0073ff" stroke="#00306b"/>
<circle cx="1056.1" cy="513.5" r="11.8" fill="#0073ff" stroke="#00306b"/>
<circle cx="1066.8" cy="528.5" r="11.8" fill="#0053ff" stroke="#00236b"/>
<circle cx="1071.1" cy="539.2" r="11.8" fill="#0053ff" stroke="#00236b"/>
<circle cx="1049.7" cy="549.9" r="11.8" fill="#0099ff" stroke="#00406b"/>
<circle cx="1060.4" cy="571.3" r="11.8" fill="#0099ff" stroke="#00406b"/>
<circle cx="1071.1" cy="582.0" r="11.8" fill="#0099ff" stroke="#00406b"/>
<circle cx="1039.0" cy="586.3" r="11.8" fill="#0073ff" stroke="#00306b"/>
<circle cx="833.4" cy="605.6" r="11.8" fill="#6cff8b" stroke="#2d6b3a"/>
<circle cx="842.0" cy="603.4" r="11.8" fill="#15ffe2" stroke="#096b5f"/>
<circle cx="857.0" cy="605.6" r="11.8" fill="#00dffc" stroke="#005e6a"/>
<circle cx="788.4" cy="627.0" r="11.8" fill="#15ffe2" stroke="#096b5f"/>
<circle cx="803.4" cy="616.3" r="11.8" fill="#00dffc" stroke="#005e6a"/>
<circle cx="797.0" cy="624.8" r="11.8" fill="#00dffc" stroke="#005e6a"/>
<circle cx="833.4" cy="622.7" r="11.8" fill="#0073ff" stroke="#00306b"/>
<circle cx="824.8" cy="635.5" r="11.8" fill="#0073ff" stroke="#00306b"/>
<circle cx="816.3" cy="646.3" r="11.8" fill="#0073ff" stroke="#00306b"/>
<circle cx="876.2" cy="614.1" r="11.8" fill="#0099ff" stroke="#00406b"/>
<circle cx="886.9" cy="616.3" r="11.8" fill="#0073ff" stroke="#00306b"/>
<circle cx="884.8" cy="633.4" r="11.8" fill="#0073ff" stroke="#00306b"/>
<circle cx="889.1" cy="654.8" r="11.8" fill="#15ffe2" stroke="#096b5f"/>
<circle cx="897.6" cy="659.1" r="11.8" fill="#00dffc" stroke="#005e6a"/>
<circle cx="904.1" cy="669.8" r="11.8" fill="#00dffc" stroke="#005e6a"/>
<circle cx="921.2" cy="684.8" r="11.8" fill="#0033ff" stroke="#00156b"/>
<circle cx="921.2" cy="667.7" r="11.8" fill="#0033ff" stroke="#00156b"/>
<circle cx="837.7" cy="657.0" r="11.8" fill="#95ff62" stroke="#3f6b29"/>
<circle cx="852.7" cy="676.2" r="11.8" fill="#0033ff" stroke="#00156b"/>
<circle cx="854.8" cy="657.0" r="11.8" fill="#0033ff" stroke="#00156b"/>
<circle cx="792.7" cy="652.7" r="11.8" fill="#0099ff" stroke="#00406b"/>
<circle cx="782.0" cy="642.0" r="11.8" fill="#0073ff" stroke="#00306b"/>
<circle cx="814.1" cy="678.4" r="11.8" fill="#0033ff" stroke="#00156b"/>
<circle cx="809.9" cy="661.2" r="11.8" fill="#0033ff" stroke="#00156b"/>
<circle cx="739.2" cy="684.8" r="11.8" fill="#ffa300" stroke="#6b4400"/>
<circle cx="754.2" cy="680.5" r="11.8" fill="#ffa300" stroke="#6b4400"/>
<circle cx="1199.9" cy="543.5" r="11.8" fill="#0099ff" stroke="#00406b"/>
<circle cx="1191.3" cy="544.5" r="11.8" fill="#0099ff" stroke="#00406b"/>
<circle cx="1183.9" cy="564.9" r="11.8" fill="#0099ff" stroke="#00406b"/>
<circle cx="1165.7" cy="588.4" r="11.8" fill="#0099ff" stroke="#00406b"/>
<circle cx="1208.5" cy="575.6" r="11.8" fill="#0053ff" stroke="#00236b"/>
<circle cx="1244.9" cy="592.7" r="11.8" fill="#0033ff" stroke="#00156b"/>
<circle cx="1255.6" cy="601.3" r="11.8" fill="#0053ff" stroke="#00236b"/>
<circle cx="1264.2" cy="603.4" r="11.8" fill="#0053ff" stroke="#00236b"/>
<circle cx="1219.2" cy="605.6" r="11.8" fill="#0099ff" stroke="#00406b"/>
<circle cx="1229.9" cy="624.8" r="11.8" fill="#0053ff" stroke="#00236b"/>
<circle cx="1097.1" cy="616.3" r="11.8" fill="#ffa300" stroke="#6b4400"/>
<circle cx="1165.7" cy="610.9" r="11.8" fill="#ffa300" stroke="#6b4400"/>
<circle cx="1126.0" cy="620.6" r="11.8" fill="#6cff8b" stroke="#2d6b3a"/>
<circle cx="1144.2" cy="624.8" r="11.8" fill="#0053ff" stroke="#00236b"/>
<circle cx="1174.2" cy="629.1" r="11.8" fill="#0053ff" stroke="#00236b"/>
<circle cx="1184.9" cy="605.6" r="11.8" fill="#0033ff" stroke="#00156b"/>
<circle cx="1092.8" cy="627.0" r="11.8" fill="#0073ff" stroke="#00306b"/>
<circle cx="1107.8" cy="639.8" r="11.8" fill="#0073ff" stroke="#00306b"/>
<circle cx="1169.9" cy="646.3" r="11.8" fill="#0073ff" stroke="#00306b"/>
<circle cx="1187.1" cy="657.0" r="11.8" fill="#0033ff" stroke="#00156b"/>
<circle cx="1202.1" cy="635.5" r="11.8" fill="#0053ff" stroke="#00236b"/>
<circle cx="1086.4" cy="652.7" r="11.8" fill="#0099ff" stroke="#00406b"/>
<circle cx="1101.4" cy="667.7" r="11.8" fill="#0099ff" stroke="#00406b"/>
<circle cx="1129.3" cy="676.2" r="11.8" fill="#0053ff" stroke="#00236b"/>
<circle cx="1150.7" cy="682.7" r="11.8" fill="#0053ff" stroke="#00236b"/>
<circle cx="1140.0" cy="657.0" r="11.8" fill="#0073ff" stroke="#00306b"/>
<circle cx="1234.2" cy="661.2" r="11.8" fill="#6cff8b" stroke="#2d6b3a"/>
<circle cx="1227.8" cy="676.2" r="11.8" fill="#0073ff" stroke="#00306b"/>
<circle cx="1251.3" cy="678.4" r="11.8" fill="#0053ff" stroke="#00236b"/>
<circle cx="1272.7" cy="680.5" r="11.8" fill="#0053ff" stroke="#00236b"/>
<circle cx="1322.0" cy="661.2" r="11.8" fill="#0073ff" stroke="#00306b"/>
<circle cx="1328.4" cy="676.2" r="11.8" fill="#0053ff" stroke="#00236b"/>
<circle cx="1294.1" cy="663.4" r="11.8" fill="#0099ff" stroke="#00406b"/>
<circle cx="1259.9" cy="663.4" r="11.8" fill="#0099ff" stroke="#00406b"/>
<circle cx="1292.0" cy="674.1" r="11.8" fill="#0099ff" stroke="#00406b"/>
<circle cx="1381.9" cy="615.2" r="11.8" fill="#0053ff" stroke="#00236b"/>
<circle cx="1426.9" cy="652.7" r="11.8" fill="#6cff8b" stroke="#2d6b3a"/>
<circle cx="1349.8" cy="652.7" r="11.8" fill="#0053ff" stroke="#00236b"/>
<circle cx="1364.8" cy="644.1" r="11.8" fill="#0053ff" stroke="#00236b"/>
<circle cx="1360.5" cy="663.4" r="11.8" fill="#0053ff" stroke="#00236b"/>
<circle cx="1386.2" cy="650.5" r="11.8" fill="#0073ff" stroke="#00306b"/>
<circle cx="1388.4" cy="674.1" r="11.8" fill="#0053ff" stroke="#00236b"/>
<circle cx="1409.8" cy="674.1" r="11.8" fill="#0053ff" stroke="#00236b"/>
<circle cx="1424.8" cy="667.7" r="11.8" fill="#0053ff" stroke="#00236b"/>
<circle cx="1441.9" cy="665.5" r="11.8" fill="#0053ff" stroke="#00236b"/>
<circle cx="1410.8" cy="642.0" r="11.8" fill="#6cff8b" stroke="#2d6b3a"/>
<circle cx="1450.4" cy="686.9" r="11.8" fill="#6cff8b" stroke="#2d6b3a"/>
<circle cx="1454.7" cy="624.8" r="11.8" fill="#ffe100" stroke="#6b5e00"/>
<circle cx="1453.7" cy="640.9" r="11.8" fill="#ffe100" stroke="#6b5e00"/>
<circle cx="1501.8" cy="620.6" r="11.8" fill="#0073ff" stroke="#00306b"/>
<circle cx="1474.0" cy="555.2" r="11.8" fill="#39ffbe" stroke="#186b50"/>
<circle cx="1465.4" cy="545.6" r="11.8" fill="#39ffbe" stroke="#186b50"/>
<circle cx="1495.4" cy="543.5" r="11.8" fill="#39ffbe" stroke="#186b50"/>
<circle cx="1521.1" cy="566.0" r="11.8" fill="#39ffbe" stroke="#186b50"/>
<circle cx="1519.0" cy="554.2" r="11.8" fill="#39ffbe" stroke="#186b50"/>
<circle cx="1499.7" cy="654.8" r="11.8" fill="#15ffe2" stroke="#096b5f"/>
<circle cx="1484.7" cy="650.5" r="11.8" fill="#15ffe2" stroke="#096b5f"/>
<circle cx="1489.0" cy="663.4" r="11.8" fill="#00dffc" stroke="#005e6a"/>
<circle cx="1497.6" cy="676.2" r="11.8" fill="#00dffc" stroke="#005e6a"/>
<circle cx="1536.1" cy="663.4" r="11.8" fill="#0073ff" stroke="#00306b"/>
<circle cx="1519.0" cy="661.2" r="11.8" fill="#0099ff" stroke="#00406b"/>
<circle cx="1551.1" cy="678.4" r="11.8" fill="#00b9ff" stroke="#004e6b"/>
<circle cx="1574.6" cy="676.2" r="11.8" fill="#00b9ff" stroke="#004e6b"/>
<circle cx="1450.3" cy="690.6" r="11.8" fill="#6cff8b" stroke="#2d6b3a"/>
<circle cx="1590.6" cy="673.5" r="11.8" fill="#0099ff" stroke="#00406b"/>
<circle cx="1592.7" cy="682.1" r="11.8" fill="#00b2ff" stroke="#004b6b"/>
<circle cx="1537.0" cy="701.3" r="11.8" fill="#0099ff" stroke="#00406b"/>
<circle cx="1556.3" cy="692.8" r="11.8" fill="#00c6ff" stroke="#00536b"/>
<circle cx="1547.8" cy="697.0" r="11.8" fill="#00c6ff" stroke="#00536b"/>
<circle cx="1580.9" cy="703.5" r="11.8" fill="#0099ff" stroke="#00406b"/>
<circle cx="1582.0" cy="716.3" r="11.8" fill="#0099ff" stroke="#00406b"/>
<circle cx="1605.6" cy="713.1" r="11.8" fill="#00bfff" stroke="#00506b"/>
<circle cx="1556.3" cy="724.9" r="11.8" fill="#0099ff" stroke="#00406b"/>
<circle cx="1530.6" cy="724.9" r="11.8" fill="#0073ff" stroke="#00306b"/>
<circle cx="1545.6" cy="714.2" r="11.8" fill="#008cff" stroke="#003b6b"/>
<circle cx="1618.4" cy="731.3" r="11.8" fill="#86ff71" stroke="#386b30"/>
<circle cx="1605.6" cy="739.9" r="11.8" fill="#86ff71" stroke="#386b30"/>
<circle cx="1593.8" cy="748.4" r="11.8" fill="#86ff71" stroke="#386b30"/>
<circle cx="1620.6" cy="757.0" r="11.8" fill="#5dff9a" stroke="#276b41"/>
<circle cx="1541.3" cy="744.2" r="11.8" fill="#52ffa5" stroke="#236b45"/>
<circle cx="1554.2" cy="748.4" r="11.8" fill="#52ffa5" stroke="#236b45"/>
<circle cx="1564.9" cy="748.4" r="11.8" fill="#52ffa5" stroke="#236b45"/>
<circle cx="1492.1" cy="752.7" r="11.8" fill="#0073ff" stroke="#00306b"/>
<circle cx="1502.8" cy="748.4" r="11.8" fill="#0073ff" stroke="#00306b"/>
<circle cx="1539.2" cy="761.3" r="11.8" fill="#0073ff" stroke="#00306b"/>
<circle cx="1524.2" cy="764.5" r="11.8" fill="#0073ff" stroke="#00306b"/>
<circle cx="1483.5" cy="737.7" r="11.8" fill="#15ffe2" stroke="#096b5f"/>
<circle cx="1404.3" cy="735.6" r="11.8" fill="#0073ff" stroke="#00306b"/>
<circle cx="1442.8" cy="724.9" r="11.8" fill="#0099ff" stroke="#00406b"/>
<circle cx="1479.2" cy="722.7" r="11.8" fill="#0073ff" stroke="#00306b"/>
<circle cx="1468.5" cy="731.3" r="11.8" fill="#0053ff" stroke="#00236b"/>
<circle cx="1430.0" cy="735.6" r="11.8" fill="#0033ff" stroke="#00156b"/>
<circle cx="1412.8" cy="752.7" r="11.8" fill="#48ffaf" stroke="#1e6b49"/>
<circle cx="1451.4" cy="757.0" r="11.8" fill="#48ffaf" stroke="#1e6b49"/>
<circle cx="1468.5" cy="763.4" r="11.8" fill="#48ffaf" stroke="#1e6b49"/>
<circle cx="1416.1" cy="780.6" r="11.8" fill="#6cff8b" stroke="#2d6b3a"/>
<circle cx="1412.8" cy="802.0" r="11.8" fill="#0053ff" stroke="#00236b"/>
<circle cx="1413.9" cy="795.5" r="11.8" fill="#0033ff" stroke="#00156b"/>
<circle cx="1633.4" cy="825.5" r="11.8" fill="#15ffe2" stroke="#096b5f"/>
<circle cx="562.0" cy="691.4" r="11.8" fill="#86ff71" stroke="#386b30"/>
<circle cx="654.1" cy="689.3" r="11.8" fill="#ffb500" stroke="#6b4c00"/>
<circle cx="652.0" cy="700.0" r="11.8" fill="#ffb500" stroke="#6b4c00"/>
<circle cx="679.8" cy="704.3" r="11.8" fill="#86ff71" stroke="#386b30"/>
<circle cx="671.3" cy="704.3" r="11.8" fill="#86ff71" stroke="#386b30"/>
<circle cx="701.2" cy="706.4" r="11.8" fill="#ffa300" stroke="#6b4400"/>
<circle cx="699.1" cy="719.3" r="11.8" fill="#ffa300" stroke="#6b4400"/>
<circle cx="726.9" cy="723.5" r="11.8" fill="#ffa300" stroke="#6b4400"/>
<circle cx="729.1" cy="744.9" r="11.8" fill="#ffa300" stroke="#6b4400"/>
<circle cx="733.4" cy="736.4" r="11.8" fill="#ffa300" stroke="#6b4400"/>
<circle cx="765.5" cy="742.8" r="11.8" fill="#ff9700" stroke="#6b3f00"/>
<circle cx="767.6" cy="764.2" r="11.8" fill="#ff9700" stroke="#6b3f00"/>
<circle cx="770.8" cy="757.8" r="11.8" fill="#ff9700" stroke="#6b3f00"/>
<circle cx="797.6" cy="781.3" r="11.8" fill="#ff8000" stroke="#6b3600"/>
<circle cx="804.0" cy="770.6" r="11.8" fill="#ff8000" stroke="#6b3600"/>
<circle cx="799.7" cy="734.2" r="11.8" fill="#008cff" stroke="#003b6b"/>
<circle cx="806.2" cy="742.8" r="11.8" fill="#008cff" stroke="#003b6b"/>
<circle cx="810.4" cy="751.4" r="11.8" fill="#008cff" stroke="#003b6b"/>
<circle cx="866.1" cy="691.4" r="11.8" fill="#15ffe2" stroke="#096b5f"/>
<circle cx="821.1" cy="691.4" r="11.8" fill="#0033ff" stroke="#00156b"/>
<circle cx="823.3" cy="704.3" r="11.8" fill="#0053ff" stroke="#00236b"/>
<circle cx="849.0" cy="708.5" r="11.8" fill="#0073ff" stroke="#00306b"/>
<circle cx="831.9" cy="715.0" r="11.8" fill="#0053ff" stroke="#00236b"/>
<circle cx="896.1" cy="710.7" r="11.8" fill="#0073ff" stroke="#00306b"/>
<circle cx="889.7" cy="727.8" r="11.8" fill="#0073ff" stroke="#00306b"/>
<circle cx="904.7" cy="725.7" r="11.8" fill="#0073ff" stroke="#00306b"/>
<circle cx="917.5" cy="682.8" r="11.8" fill="#0033ff" stroke="#00156b"/>
<circle cx="588.8" cy="781.3" r="11.8" fill="#ffea00" stroke="#6b6200"/>
<circle cx="588.8" cy="807.0" r="11.8" fill="#ffea00" stroke="#6b6200"/>
<circle cx="751.6" cy="800.6" r="11.8" fill="#ffa300" stroke="#6b4400"/>
<circle cx="729.1" cy="802.8" r="11.8" fill="#0080ff" stroke="#00366b"/>
<circle cx="735.5" cy="824.2" r="11.8" fill="#0080ff" stroke="#00366b"/>
<circle cx="794.4" cy="802.8" r="11.8" fill="#0053ff" stroke="#00236b"/>
<circle cx="796.5" cy="822.0" r="11.8" fill="#0053ff" stroke="#00236b"/>
<circle cx="797.6" cy="815.6" r="11.8" fill="#0053ff" stroke="#00236b"/>
<circle cx="954.9" cy="734.2" r="11.8" fill="#0053ff" stroke="#00236b"/>
<circle cx="950.7" cy="744.9" r="11.8" fill="#0053ff" stroke="#00236b"/>
<circle cx="1017.0" cy="738.5" r="11.8" fill="#6cff8b" stroke="#2d6b3a"/>
<circle cx="1012.8" cy="768.5" r="11.8" fill="#00dffc" stroke="#005e6a"/>
<circle cx="1023.5" cy="721.4" r="11.8" fill="#0033ff" stroke="#00156b"/>
<circle cx="1012.8" cy="704.3" r="11.8" fill="#0073ff" stroke="#00306b"/>
<circle cx="1004.2" cy="751.4" r="11.8" fill="#0099ff" stroke="#00406b"/>
<circle cx="987.1" cy="755.7" r="11.8" fill="#0053ff" stroke="#00236b"/>
<circle cx="1025.6" cy="757.8" r="11.8" fill="#0033ff" stroke="#00156b"/>
<circle cx="993.5" cy="766.4" r="11.8" fill="#0053ff" stroke="#00236b"/>
<circle cx="995.6" cy="736.4" r="11.8" fill="#0099ff" stroke="#00406b"/>
<circle cx="922.8" cy="770.6" r="11.8" fill="#3effb9" stroke="#1a6b4e"/>
<circle cx="940.0" cy="777.1" r="11.8" fill="#3effb9" stroke="#1a6b4e"/>
<circle cx="929.3" cy="789.9" r="11.8" fill="#3effb9" stroke="#1a6b4e"/>
<circle cx="959.2" cy="802.8" r="11.8" fill="#7bff7b" stroke="#346b34"/>
<circle cx="968.9" cy="812.4" r="11.8" fill="#7bff7b" stroke="#346b34"/>
<circle cx="1032.0" cy="789.9" r="11.8" fill="#7bff7b" stroke="#346b34"/>
<circle cx="1033.1" cy="817.8" r="11.8" fill="#7bff7b" stroke="#346b34"/>
<circle cx="946.4" cy="888.4" r="11.8" fill="#008cff" stroke="#003b6b"/>
<circle cx="922.8" cy="956.9" r="11.8" fill="#0073ff" stroke="#00306b"/>
<circle cx="919.6" cy="948.4" r="11.8" fill="#0073ff" stroke="#00306b"/>
<circle cx="1186.2" cy="710.7" r="11.8" fill="#b4ff43" stroke="#4c6b1c"/>
<circle cx="1194.8" cy="693.6" r="11.8" fill="#ffa300" stroke="#6b4400"/>
<circle cx="1226.9" cy="730.0" r="11.8" fill="#ffb500" stroke="#6b4c00"/>
<circle cx="1054.5" cy="719.3" r="11.8" fill="#0073ff" stroke="#00306b"/>
<circle cx="1066.3" cy="678.6" r="11.8" fill="#0073ff" stroke="#00306b"/>
<circle cx="1079.1" cy="695.7" r="11.8" fill="#0073ff" stroke="#00306b"/>
<circle cx="1094.1" cy="691.4" r="11.8" fill="#0073ff" stroke="#00306b"/>
<circle cx="1132.7" cy="676.4" r="11.8" fill="#0053ff" stroke="#00236b"/>
<circle cx="1126.3" cy="717.1" r="11.8" fill="#0053ff" stroke="#00236b"/>
<circle cx="1115.5" cy="734.2" r="11.8" fill="#0033ff" stroke="#00156b"/>
<circle cx="1137.0" cy="738.5" r="11.8" fill="#0053ff" stroke="#00236b"/>
<circle cx="1158.4" cy="747.1" r="11.8" fill="#0053ff" stroke="#00236b"/>
<circle cx="1104.8" cy="712.8" r="11.8" fill="#0099ff" stroke="#00406b"/>
<circle cx="1107.0" cy="742.8" r="11.8" fill="#0099ff" stroke="#00406b"/>
<circle cx="1151.9" cy="693.6" r="11.8" fill="#0073ff" stroke="#00306b"/>
<circle cx="1169.1" cy="710.7" r="11.8" fill="#0073ff" stroke="#00306b"/>
<circle cx="1181.9" cy="734.2" r="11.8" fill="#0073ff" stroke="#00306b"/>
<circle cx="1286.9" cy="719.3" r="11.8" fill="#6cff8b" stroke="#2d6b3a"/>
<circle cx="1229.0" cy="678.6" r="11.8" fill="#0073ff" stroke="#00306b"/>
<circle cx="1286.9" cy="676.4" r="11.8" fill="#0099ff" stroke="#00406b"/>
<circle cx="1327.5" cy="678.6" r="11.8" fill="#0073ff" stroke="#00306b"/>
<circle cx="1244.0" cy="712.8" r="11.8" fill="#0053ff" stroke="#00236b"/>
<circle cx="1261.2" cy="715.0" r="11.8" fill="#0053ff" stroke="#00236b"/>
<circle cx="1278.3" cy="710.7" r="11.8" fill="#0073ff" stroke="#00306b"/>
<circle cx="1226.9" cy="700.0" r="11.8" fill="#0073ff" stroke="#00306b"/>
<circle cx="1340.4" cy="704.3" r="11.8" fill="#0053ff" stroke="#00236b"/>
<circle cx="1314.7" cy="734.2" r="11.8" fill="#0073ff" stroke="#00306b"/>
<circle cx="1327.5" cy="736.4" r="11.8" fill="#0073ff" stroke="#00306b"/>
<circle cx="1340.4" cy="747.1" r="11.8" fill="#0053ff" stroke="#00236b"/>
<circle cx="1361.8" cy="723.5" r="11.8" fill="#0053ff" stroke="#00236b"/>
<circle cx="1376.8" cy="740.7" r="11.8" fill="#0099ff" stroke="#00406b"/>
<circle cx="1222.6" cy="755.7" r="11.8" fill="#0053ff" stroke="#00236b"/>
<circle cx="1239.7" cy="751.4" r="11.8" fill="#0073ff" stroke="#00306b"/>
<circle cx="1254.7" cy="749.2" r="11.8" fill="#0073ff" stroke="#00306b"/>
<circle cx="1329.7" cy="798.5" r="11.8" fill="#6cff8b" stroke="#2d6b3a"/>
<circle cx="1361.8" cy="809.2" r="11.8" fill="#48ffaf" stroke="#1e6b49"/>
<circle cx="1378.9" cy="802.8" r="11.8" fill="#0053ff" stroke="#00236b"/>
<circle cx="1346.8" cy="819.9" r="11.8" fill="#0053ff" stroke="#00236b"/>
<circle cx="1349.0" cy="830.6" r="11.8" fill="#0053ff" stroke="#00236b"/>
<circle cx="1276.1" cy="828.5" r="11.8" fill="#0033ff" stroke="#00156b"/>
<circle cx="1291.1" cy="867.0" r="11.8" fill="#0033ff" stroke="#00156b"/>
<circle cx="1301.8" cy="862.7" r="11.8" fill="#0033ff" stroke="#00156b"/>
<circle cx="1319.0" cy="864.9" r="11.8" fill="#0033ff" stroke="#00156b"/>
<circle cx="1074.9" cy="819.9" r="11.8" fill="#0033ff" stroke="#00156b"/>
<circle cx="1089.9" cy="828.5" r="11.8" fill="#0033ff" stroke="#00156b"/>
<circle cx="1096.3" cy="841.3" r="11.8" fill="#0053ff" stroke="#00236b"/>
<circle cx="1078.1" cy="845.6" r="11.8" fill="#0086ff" stroke="#00386b"/>
<circle cx="1126.3" cy="828.5" r="11.8" fill="#0033ff" stroke="#00156b"/>
<circle cx="1115.5" cy="822.0" r="11.8" fill="#0086ff" stroke="#00386b"/>
<circle cx="1170.1" cy="873.4" r="11.8" fill="#81ff76" stroke="#366b32"/>
<circle cx="1282.6" cy="946.2" r="11.8" fill="#0033ff" stroke="#00156b"/>
<circle cx="1284.7" cy="937.7" r="11.8" fill="#0033ff" stroke="#00156b"/>
<circle cx="1382.8" cy="715.7" r="11.8" fill="#0033ff" stroke="#00156b"/>
<circle cx="1389.3" cy="747.8" r="11.8" fill="#0073ff" stroke="#00306b"/>
<circle cx="1397.8" cy="736.0" r="11.8" fill="#008cff" stroke="#003b6b"/>
<circle cx="1385.0" cy="786.4" r="11.8" fill="#6cff8b" stroke="#2d6b3a"/>
<circle cx="1382.8" cy="806.7" r="11.8" fill="#0053ff" stroke="#00236b"/>
<circle cx="1389.3" cy="839.9" r="11.8" fill="#0033ff" stroke="#00156b"/>
<circle cx="1370.0" cy="850.6" r="11.8" fill="#0033ff" stroke="#00156b"/>
<circle cx="1380.7" cy="848.5" r="11.8" fill="#0033ff" stroke="#00156b"/>
<circle cx="1476.0" cy="853.8" r="11.8" fill="#0053ff" stroke="#00236b"/>
<circle cx="1509.2" cy="878.4" r="11.8" fill="#48ffaf" stroke="#1e6b49"/>
<circle cx="1502.7" cy="872.0" r="11.8" fill="#48ffaf" stroke="#1e6b49"/>
<circle cx="1622.7" cy="894.5" r="11.8" fill="#4dffaa" stroke="#206b47"/>
<circle cx="1532.7" cy="951.2" r="11.8" fill="#c9ff2e" stroke="#546b13"/>
<circle cx="1543.4" cy="938.4" r="11.8" fill="#33ffc3" stroke="#166b52"/>
<circle cx="1539.1" cy="929.8" r="11.8" fill="#33ffc3" stroke="#166b52"/>
<circle cx="1524.2" cy="923.4" r="11.8" fill="#33ffc3" stroke="#166b52"/>
<circle cx="1374.3" cy="947.0" r="11.8" fill="#7bff7b" stroke="#346b34"/>
<circle cx="1372.1" cy="942.7" r="11.8" fill="#7bff7b" stroke="#346b34"/>
<circle cx="1417.1" cy="972.7" r="11.8" fill="#7bff7b" stroke="#346b34"/>
<circle cx="943.5" cy="1028.5" r="11.8" fill="#0079ff" stroke="#00336b"/>
<circle cx="947.8" cy="1037.0" r="11.8" fill="#0079ff" stroke="#00336b"/>
<circle cx="967.0" cy="1058.5" r="11.8" fill="#0079ff" stroke="#00336b"/>
<circle cx="970.2" cy="1064.9" r="11.8" fill="#0079ff" stroke="#00336b"/>
<circle cx="1532.7" cy="1071.3" r="11.8" fill="#81ff76" stroke="#366b32"/>
<circle cx="1527.3" cy="1064.9" r="11.8" fill="#81ff76" stroke="#366b32"/>
<circle cx="709.0" cy="651.0" r="11.8" fill="#0073ff" stroke="#00306b"/>
<circle cx="700.0" cy="664.0" r="11.8" fill="#0073ff" stroke="#00306b"/>
<circle cx="722.0" cy="630.0" r="11.8" fill="#0073ff" stroke="#00306b"/>
</g></g>
<g filter="url(#line)">
<g stroke="#b0b0b0" stroke-opacity="0.8" stroke-width="4.6" fill="none">
<line x1="535.1" y1="86.5" x2="535.1" y2="1102.3"/>
<line x1="701.5" y1="86.5" x2="701.5" y2="1102.3"/>
<line x1="867.9" y1="86.5" x2="867.9" y2="1102.3"/>
<line x1="1034.3" y1="86.5" x2="1034.3" y2="1102.3"/>
<line x1="1200.8" y1="86.5" x2="1200.8" y2="1102.3"/>
<line x1="1367.2" y1="86.5" x2="1367.2" y2="1102.3"/>
<line x1="1533.6" y1="86.5" x2="1533.6" y2="1102.3"/>
<line x1="1700.0" y1="86.5" x2="1700.0" y2="1102.3"/>
<line x1="369.5" y1="933.4" x2="1865.3" y2="933.4"/>
<line x1="369.5" y1="764.1" x2="1865.3" y2="764.1"/>
<line x1="369.5" y1="594.9" x2="1865.3" y2="594.9"/>
<line x1="369.5" y1="425.6" x2="1865.3" y2="425.6"/>
<line x1="369.5" y1="256.4" x2="1865.3" y2="256.4"/>
</g>
<g stroke="#000" stroke-width="8" stroke-linecap="round">
<line x1="369.5" y1="1102.3" x2="369.5" y2="1108.8"/>
<line x1="535.7" y1="1102.3" x2="535.7" y2="1108.8"/>
<line x1="701.9" y1="1102.3" x2="701.9" y2="1108.8"/>
<line x1="868.1" y1="1102.3" x2="868.1" y2="1108.8"/>
<line x1="1034.3" y1="1102.3" x2="1034.3" y2="1108.8"/>
<line x1="1200.5" y1="1102.3" x2="1200.5" y2="1108.8"/>
<line x1="1366.7" y1="1102.3" x2="1366.7" y2="1108.8"/>
<line x1="1532.9" y1="1102.3" x2="1532.9" y2="1108.8"/>
<line x1="1699.1" y1="1102.3" x2="1699.1" y2="1108.8"/>
<line x1="1865.3" y1="1102.3" x2="1865.3" y2="1108.8"/>
<line x1="363.0" y1="1102.3" x2="369.5" y2="1102.3"/>
<line x1="363.0" y1="933.0" x2="369.5" y2="933.0"/>
<line x1="363.0" y1="763.7" x2="369.5" y2="763.7"/>
<line x1="363.0" y1="594.4" x2="369.5" y2="594.4"/>
<line x1="363.0" y1="425.1" x2="369.5" y2="425.1"/>
<line x1="363.0" y1="255.8" x2="369.5" y2="255.8"/>
<line x1="363.0" y1="86.5" x2="369.5" y2="86.5"/>
<line x1="2010.5" y1="1102.3" x2="2016.0" y2="1102.3"/>
<line x1="2010.5" y1="975.3" x2="2016.0" y2="975.3"/>
<line x1="2010.5" y1="848.3" x2="2016.0" y2="848.3"/>
<line x1="2010.5" y1="721.4" x2="2016.0" y2="721.4"/>
<line x1="2010.5" y1="594.4" x2="2016.0" y2="594.4"/>
<line x1="2010.5" y1="467.4" x2="2016.0" y2="467.4"/>
<line x1="2010.5" y1="340.4" x2="2016.0" y2="340.4"/>
<line x1="2010.5" y1="213.5" x2="2016.0" y2="213.5"/>
<line x1="2010.5" y1="86.5" x2="2016.0" y2="86.5"/>
</g>
<rect x="369.5" y="86.5" width="1495.8" height="1015.8" fill="none" stroke="#000" stroke-width="8.4"/>
<rect x="1959.0" y="86.5" width="51.5" height="1015.8" fill="url(#jet)" stroke="#000" stroke-width="8.4"/>
</g>
<g filter="url(#txt)">
<g class="tx">
<text x="370.0" y="1191.0" text-anchor="middle">0</text>
<text x="536.2" y="1191.0" text-anchor="middle">20</text>
<text x="702.4" y="1191.0" text-anchor="middle">40</text>
<text x="868.6" y="1191.0" text-anchor="middle">60</text>
<text x="1034.8" y="1191.0" text-anchor="middle">80</text>
<text x="1201.0" y="1191.0" text-anchor="middle">100</text>
<text x="1367.2" y="1191.0" text-anchor="middle">120</text>
<text x="1533.4" y="1191.0" text-anchor="middle">140</text>
<text x="1699.6" y="1191.0" text-anchor="middle">160</text>
<text x="1865.8" y="1191.0" text-anchor="middle">180</text>
</g><g class="ty">
<text x="331.0" y="1130.7" text-anchor="end">−30</text>
<text x="331.0" y="961.4" text-anchor="end">−20</text>
<text x="331.0" y="792.1" text-anchor="end">−10</text>
<text x="331.0" y="622.8" text-anchor="end">0</text>
<text x="331.0" y="453.5" text-anchor="end">10</text>
<text x="331.0" y="284.2" text-anchor="end">20</text>
<text x="331.0" y="114.9" text-anchor="end">30</text>
</g><g class="tc">
<text x="2048.2" y="1127.3" text-anchor="start">−80</text>
<text x="2048.2" y="1000.3" text-anchor="start">−60</text>
<text x="2048.2" y="873.3" text-anchor="start">−40</text>
<text x="2048.2" y="746.4" text-anchor="start">−20</text>
<text x="2048.2" y="619.4" text-anchor="start">0</text>
<text x="2048.2" y="492.4" text-anchor="start">20</text>
<text x="2048.2" y="365.4" text-anchor="start">40</text>
<text x="2048.2" y="238.5" text-anchor="start">60</text>
<text x="2048.2" y="111.5" text-anchor="start">80</text>
</g>
<g class="lb">
<text x="1116.0" y="1303.5" text-anchor="middle">Elongation [°]</text>
<text transform="translate(115.4 595.0) rotate(-90)" text-anchor="middle">SLR residuals [cm]</text>
<text class="lc" transform="translate(2280.0 596.0) rotate(-90)" text-anchor="middle">Beta angle [°]</text>
</g>
</g>
</svg></body></html>
